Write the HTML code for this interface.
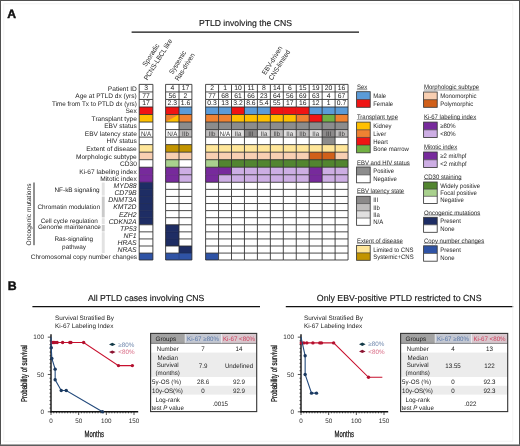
<!DOCTYPE html>
<html><head><meta charset="utf-8"><style>
html,body{margin:0;padding:0;background:#fff;}
#root{position:relative;width:520px;height:446px;overflow:hidden;background:#fff;font-family:"Liberation Sans",sans-serif;}
</style></head><body><div id="root">
<svg width="520" height="446" viewBox="0 0 520 446" font-family="Liberation Sans" text-rendering="geometricPrecision" style="position:absolute;left:0;top:0;filter:blur(0.22px)">
<rect x="0.00" y="0.00" width="520.00" height="446.00" fill="#fff"/>
<rect x="139.20" y="84.40" width="13.70" height="7.53" fill="#fff"/>
<text x="146.05" y="90.37" font-size="6.8" text-anchor="middle" fill="#222" font-weight="normal" font-style="normal" >3</text>
<rect x="139.20" y="91.93" width="13.70" height="7.53" fill="#fff"/>
<text x="146.05" y="97.90" font-size="6.8" text-anchor="middle" fill="#222" font-weight="normal" font-style="normal" >77</text>
<rect x="139.20" y="99.46" width="13.70" height="7.53" fill="#fff"/>
<text x="146.05" y="105.43" font-size="6.8" text-anchor="middle" fill="#222" font-weight="normal" font-style="normal" >17</text>
<rect x="139.20" y="106.99" width="13.70" height="7.53" fill="#f01414"/>
<rect x="139.20" y="114.52" width="13.70" height="7.53" fill="#ffc000"/>
<rect x="139.20" y="122.05" width="13.70" height="7.53" fill="#ffffff"/>
<rect x="139.20" y="129.58" width="13.70" height="7.53" fill="#ffffff"/>
<text transform="translate(146.05,135.55) scale(0.9688,1)" x="0" y="0" font-size="6.4" text-anchor="middle" fill="#3a3a3a" font-weight="normal" font-style="normal" >N/A</text>
<rect x="139.20" y="137.11" width="13.70" height="7.53" fill="#ffffff"/>
<rect x="139.20" y="144.64" width="13.70" height="7.53" fill="#ffe699"/>
<rect x="139.20" y="152.17" width="13.70" height="7.53" fill="#f8cfb2"/>
<rect x="139.20" y="159.70" width="13.70" height="7.53" fill="#ffffff"/>
<rect x="139.20" y="167.23" width="13.70" height="7.53" fill="#772a9c"/>
<rect x="139.20" y="174.76" width="13.70" height="7.53" fill="#772a9c"/>
<rect x="139.20" y="182.29" width="13.70" height="7.08" fill="#1e2d64"/>
<rect x="139.20" y="189.37" width="13.70" height="7.08" fill="#1e2d64"/>
<rect x="139.20" y="196.45" width="13.70" height="7.08" fill="#1e2d64"/>
<rect x="139.20" y="203.53" width="13.70" height="7.08" fill="#1e2d64"/>
<rect x="139.20" y="210.61" width="13.70" height="7.08" fill="#1e2d64"/>
<rect x="139.20" y="217.69" width="13.70" height="7.08" fill="#1e2d64"/>
<rect x="139.20" y="224.77" width="13.70" height="7.08" fill="#fff"/>
<rect x="139.20" y="231.85" width="13.70" height="7.08" fill="#fff"/>
<rect x="139.20" y="238.93" width="13.70" height="7.08" fill="#fff"/>
<rect x="139.20" y="246.01" width="13.70" height="7.08" fill="#fff"/>
<rect x="139.20" y="253.09" width="13.70" height="6.90" fill="#2f53a5"/>
<rect x="165.60" y="84.40" width="13.40" height="7.53" fill="#fff"/>
<text x="172.30" y="90.37" font-size="6.8" text-anchor="middle" fill="#222" font-weight="normal" font-style="normal" >4</text>
<rect x="165.60" y="91.93" width="13.40" height="7.53" fill="#fff"/>
<text x="172.30" y="97.90" font-size="6.8" text-anchor="middle" fill="#222" font-weight="normal" font-style="normal" >56</text>
<rect x="165.60" y="99.46" width="13.40" height="7.53" fill="#fff"/>
<text x="172.30" y="105.43" font-size="6.8" text-anchor="middle" fill="#222" font-weight="normal" font-style="normal" >2.3</text>
<rect x="165.60" y="106.99" width="13.40" height="7.53" fill="#f01414"/>
<rect x="165.60" y="114.52" width="13.40" height="7.53" fill="#ffc000"/>
<polygon points="165.60,114.52 179.00,114.52 165.60,122.05" fill="#ef8232"/>
<rect x="165.60" y="122.05" width="13.40" height="7.53" fill="#ffffff"/>
<rect x="165.60" y="129.58" width="13.40" height="7.53" fill="#ffffff"/>
<text transform="translate(172.30,135.55) scale(0.9688,1)" x="0" y="0" font-size="6.4" text-anchor="middle" fill="#3a3a3a" font-weight="normal" font-style="normal" >N/A</text>
<rect x="165.60" y="137.11" width="13.40" height="7.53" fill="#ffffff"/>
<rect x="165.60" y="144.64" width="13.40" height="7.53" fill="#c29400"/>
<rect x="165.60" y="152.17" width="13.40" height="7.53" fill="#f8cfb2"/>
<rect x="165.60" y="159.70" width="13.40" height="7.53" fill="#a9d18e"/>
<rect x="165.60" y="167.23" width="13.40" height="7.53" fill="#772a9c"/>
<rect x="165.60" y="174.76" width="13.40" height="7.53" fill="#772a9c"/>
<rect x="165.60" y="182.29" width="13.40" height="7.08" fill="#fff"/>
<rect x="165.60" y="189.37" width="13.40" height="7.08" fill="#fff"/>
<rect x="165.60" y="196.45" width="13.40" height="7.08" fill="#fff"/>
<rect x="165.60" y="203.53" width="13.40" height="7.08" fill="#fff"/>
<rect x="165.60" y="210.61" width="13.40" height="7.08" fill="#fff"/>
<rect x="165.60" y="217.69" width="13.40" height="7.08" fill="#fff"/>
<rect x="165.60" y="224.77" width="13.40" height="7.08" fill="#1e2d64"/>
<rect x="165.60" y="231.85" width="13.40" height="7.08" fill="#1e2d64"/>
<rect x="165.60" y="238.93" width="13.40" height="7.08" fill="#1e2d64"/>
<rect x="165.60" y="246.01" width="13.40" height="7.08" fill="#fff"/>
<rect x="165.60" y="253.09" width="13.40" height="6.90" fill="#2f53a5"/>
<rect x="179.00" y="84.40" width="12.90" height="7.53" fill="#fff"/>
<text x="185.45" y="90.37" font-size="6.8" text-anchor="middle" fill="#222" font-weight="normal" font-style="normal" >17</text>
<rect x="179.00" y="91.93" width="12.90" height="7.53" fill="#fff"/>
<text x="185.45" y="97.90" font-size="6.8" text-anchor="middle" fill="#222" font-weight="normal" font-style="normal" >2</text>
<rect x="179.00" y="99.46" width="12.90" height="7.53" fill="#fff"/>
<text x="185.45" y="105.43" font-size="6.8" text-anchor="middle" fill="#222" font-weight="normal" font-style="normal" >1.6</text>
<rect x="179.00" y="106.99" width="12.90" height="7.53" fill="#5b9bd8"/>
<rect x="179.00" y="114.52" width="12.90" height="7.53" fill="#ef8232"/>
<rect x="179.00" y="122.05" width="12.90" height="7.53" fill="#8c8c8c"/>
<rect x="179.00" y="129.58" width="12.90" height="7.53" fill="#bfbdbd"/>
<text transform="translate(185.45,135.55) scale(0.9688,1)" x="0" y="0" font-size="6.4" text-anchor="middle" fill="#3a3a3a" font-weight="normal" font-style="normal" >IIb</text>
<rect x="179.00" y="137.11" width="12.90" height="7.53" fill="#ffffff"/>
<rect x="179.00" y="144.64" width="12.90" height="7.53" fill="#c29400"/>
<rect x="179.00" y="152.17" width="12.90" height="7.53" fill="#f8cfb2"/>
<rect x="179.00" y="159.70" width="12.90" height="7.53" fill="#ffffff"/>
<rect x="179.00" y="167.23" width="12.90" height="7.53" fill="#cdaee4"/>
<rect x="179.00" y="174.76" width="12.90" height="7.53" fill="#cdaee4"/>
<rect x="179.00" y="182.29" width="12.90" height="7.08" fill="#fff"/>
<rect x="179.00" y="189.37" width="12.90" height="7.08" fill="#fff"/>
<rect x="179.00" y="196.45" width="12.90" height="7.08" fill="#fff"/>
<rect x="179.00" y="203.53" width="12.90" height="7.08" fill="#fff"/>
<rect x="179.00" y="210.61" width="12.90" height="7.08" fill="#fff"/>
<rect x="179.00" y="217.69" width="12.90" height="7.08" fill="#fff"/>
<rect x="179.00" y="224.77" width="12.90" height="7.08" fill="#fff"/>
<rect x="179.00" y="231.85" width="12.90" height="7.08" fill="#fff"/>
<rect x="179.00" y="238.93" width="12.90" height="7.08" fill="#fff"/>
<rect x="179.00" y="246.01" width="12.90" height="7.08" fill="#1e2d64"/>
<rect x="179.00" y="253.09" width="12.90" height="6.90" fill="#2f53a5"/>
<rect x="205.60" y="84.40" width="12.95" height="7.53" fill="#fff"/>
<text x="212.07" y="90.37" font-size="6.8" text-anchor="middle" fill="#222" font-weight="normal" font-style="normal" >2</text>
<rect x="205.60" y="91.93" width="12.95" height="7.53" fill="#fff"/>
<text x="212.07" y="97.90" font-size="6.8" text-anchor="middle" fill="#222" font-weight="normal" font-style="normal" >77</text>
<rect x="205.60" y="99.46" width="12.95" height="7.53" fill="#fff"/>
<text x="212.07" y="105.43" font-size="6.8" text-anchor="middle" fill="#222" font-weight="normal" font-style="normal" >0.3</text>
<rect x="205.60" y="106.99" width="12.95" height="7.53" fill="#5b9bd8"/>
<rect x="205.60" y="114.52" width="12.95" height="7.53" fill="#ef8232"/>
<rect x="205.60" y="122.05" width="12.95" height="7.53" fill="#8c8c8c"/>
<rect x="205.60" y="129.58" width="12.95" height="7.53" fill="#bfbdbd"/>
<text transform="translate(212.07,135.55) scale(0.9688,1)" x="0" y="0" font-size="6.4" text-anchor="middle" fill="#3a3a3a" font-weight="normal" font-style="normal" >IIb</text>
<rect x="205.60" y="137.11" width="12.95" height="7.53" fill="#ffffff"/>
<rect x="205.60" y="144.64" width="12.95" height="7.53" fill="#ffe699"/>
<rect x="205.60" y="152.17" width="12.95" height="7.53" fill="#f8cfb2"/>
<rect x="205.60" y="159.70" width="12.95" height="7.53" fill="#a9d18e"/>
<rect x="205.60" y="167.23" width="12.95" height="7.53" fill="#772a9c"/>
<rect x="205.60" y="174.76" width="12.95" height="7.53" fill="#772a9c"/>
<rect x="205.60" y="182.29" width="12.95" height="7.08" fill="#fff"/>
<rect x="205.60" y="189.37" width="12.95" height="7.08" fill="#fff"/>
<rect x="205.60" y="196.45" width="12.95" height="7.08" fill="#fff"/>
<rect x="205.60" y="203.53" width="12.95" height="7.08" fill="#fff"/>
<rect x="205.60" y="210.61" width="12.95" height="7.08" fill="#fff"/>
<rect x="205.60" y="217.69" width="12.95" height="7.08" fill="#fff"/>
<rect x="205.60" y="224.77" width="12.95" height="7.08" fill="#fff"/>
<rect x="205.60" y="231.85" width="12.95" height="7.08" fill="#fff"/>
<rect x="205.60" y="238.93" width="12.95" height="7.08" fill="#fff"/>
<rect x="205.60" y="246.01" width="12.95" height="7.08" fill="#fff"/>
<rect x="205.60" y="253.09" width="12.95" height="6.90" fill="#2f53a5"/>
<rect x="218.55" y="84.40" width="12.95" height="7.53" fill="#fff"/>
<text x="225.02" y="90.37" font-size="6.8" text-anchor="middle" fill="#222" font-weight="normal" font-style="normal" >1</text>
<rect x="218.55" y="91.93" width="12.95" height="7.53" fill="#fff"/>
<text x="225.02" y="97.90" font-size="6.8" text-anchor="middle" fill="#222" font-weight="normal" font-style="normal" >68</text>
<rect x="218.55" y="99.46" width="12.95" height="7.53" fill="#fff"/>
<text x="225.02" y="105.43" font-size="6.8" text-anchor="middle" fill="#222" font-weight="normal" font-style="normal" >13</text>
<rect x="218.55" y="106.99" width="12.95" height="7.53" fill="#5b9bd8"/>
<rect x="218.55" y="114.52" width="12.95" height="7.53" fill="#ef8232"/>
<rect x="218.55" y="122.05" width="12.95" height="7.53" fill="#8c8c8c"/>
<rect x="218.55" y="129.58" width="12.95" height="7.53" fill="#ffffff"/>
<text transform="translate(225.02,135.55) scale(0.9688,1)" x="0" y="0" font-size="6.4" text-anchor="middle" fill="#3a3a3a" font-weight="normal" font-style="normal" >N/A</text>
<rect x="218.55" y="137.11" width="12.95" height="7.53" fill="#ffffff"/>
<rect x="218.55" y="144.64" width="12.95" height="7.53" fill="#ffe699"/>
<rect x="218.55" y="152.17" width="12.95" height="7.53" fill="#f8cfb2"/>
<rect x="218.55" y="159.70" width="12.95" height="7.53" fill="#528530"/>
<rect x="218.55" y="167.23" width="12.95" height="7.53" fill="#772a9c"/>
<rect x="218.55" y="174.76" width="12.95" height="7.53" fill="#cdaee4"/>
<rect x="218.55" y="182.29" width="12.95" height="7.08" fill="#fff"/>
<rect x="218.55" y="189.37" width="12.95" height="7.08" fill="#fff"/>
<rect x="218.55" y="196.45" width="12.95" height="7.08" fill="#fff"/>
<rect x="218.55" y="203.53" width="12.95" height="7.08" fill="#fff"/>
<rect x="218.55" y="210.61" width="12.95" height="7.08" fill="#fff"/>
<rect x="218.55" y="217.69" width="12.95" height="7.08" fill="#fff"/>
<rect x="218.55" y="224.77" width="12.95" height="7.08" fill="#fff"/>
<rect x="218.55" y="231.85" width="12.95" height="7.08" fill="#fff"/>
<rect x="218.55" y="238.93" width="12.95" height="7.08" fill="#fff"/>
<rect x="218.55" y="246.01" width="12.95" height="7.08" fill="#fff"/>
<rect x="218.55" y="253.09" width="12.95" height="6.90" fill="#fff"/>
<rect x="231.50" y="84.40" width="12.95" height="7.53" fill="#fff"/>
<text x="237.97" y="90.37" font-size="6.8" text-anchor="middle" fill="#222" font-weight="normal" font-style="normal" >10</text>
<rect x="231.50" y="91.93" width="12.95" height="7.53" fill="#fff"/>
<text x="237.97" y="97.90" font-size="6.8" text-anchor="middle" fill="#222" font-weight="normal" font-style="normal" >61</text>
<rect x="231.50" y="99.46" width="12.95" height="7.53" fill="#fff"/>
<text x="237.97" y="105.43" font-size="6.8" text-anchor="middle" fill="#222" font-weight="normal" font-style="normal" >3.2</text>
<rect x="231.50" y="106.99" width="12.95" height="7.53" fill="#f01414"/>
<rect x="231.50" y="114.52" width="12.95" height="7.53" fill="#ffc000"/>
<rect x="231.50" y="122.05" width="12.95" height="7.53" fill="#8c8c8c"/>
<rect x="231.50" y="129.58" width="12.95" height="7.53" fill="#e0dfdf"/>
<text transform="translate(237.97,135.55) scale(0.9688,1)" x="0" y="0" font-size="6.4" text-anchor="middle" fill="#3a3a3a" font-weight="normal" font-style="normal" >IIa</text>
<rect x="231.50" y="137.11" width="12.95" height="7.53" fill="#ffffff"/>
<rect x="231.50" y="144.64" width="12.95" height="7.53" fill="#ffe699"/>
<rect x="231.50" y="152.17" width="12.95" height="7.53" fill="#f8cfb2"/>
<rect x="231.50" y="159.70" width="12.95" height="7.53" fill="#528530"/>
<rect x="231.50" y="167.23" width="12.95" height="7.53" fill="#cdaee4"/>
<rect x="231.50" y="174.76" width="12.95" height="7.53" fill="#cdaee4"/>
<rect x="231.50" y="182.29" width="12.95" height="7.08" fill="#fff"/>
<rect x="231.50" y="189.37" width="12.95" height="7.08" fill="#fff"/>
<rect x="231.50" y="196.45" width="12.95" height="7.08" fill="#fff"/>
<rect x="231.50" y="203.53" width="12.95" height="7.08" fill="#fff"/>
<rect x="231.50" y="210.61" width="12.95" height="7.08" fill="#fff"/>
<rect x="231.50" y="217.69" width="12.95" height="7.08" fill="#fff"/>
<rect x="231.50" y="224.77" width="12.95" height="7.08" fill="#fff"/>
<rect x="231.50" y="231.85" width="12.95" height="7.08" fill="#fff"/>
<rect x="231.50" y="238.93" width="12.95" height="7.08" fill="#fff"/>
<rect x="231.50" y="246.01" width="12.95" height="7.08" fill="#fff"/>
<rect x="231.50" y="253.09" width="12.95" height="6.90" fill="#fff"/>
<rect x="244.45" y="84.40" width="12.95" height="7.53" fill="#fff"/>
<text x="250.92" y="90.37" font-size="6.8" text-anchor="middle" fill="#222" font-weight="normal" font-style="normal" >11</text>
<rect x="244.45" y="91.93" width="12.95" height="7.53" fill="#fff"/>
<text x="250.92" y="97.90" font-size="6.8" text-anchor="middle" fill="#222" font-weight="normal" font-style="normal" >66</text>
<rect x="244.45" y="99.46" width="12.95" height="7.53" fill="#fff"/>
<text x="250.92" y="105.43" font-size="6.8" text-anchor="middle" fill="#222" font-weight="normal" font-style="normal" >8.6</text>
<rect x="244.45" y="106.99" width="12.95" height="7.53" fill="#5b9bd8"/>
<rect x="244.45" y="114.52" width="12.95" height="7.53" fill="#ffc000"/>
<rect x="244.45" y="122.05" width="12.95" height="7.53" fill="#8c8c8c"/>
<rect x="244.45" y="129.58" width="12.95" height="7.53" fill="#8c8a8a"/>
<text transform="translate(250.92,135.55) scale(0.9688,1)" x="0" y="0" font-size="6.4" text-anchor="middle" fill="#3a3a3a" font-weight="normal" font-style="normal" >III</text>
<rect x="244.45" y="137.11" width="12.95" height="7.53" fill="#ffffff"/>
<rect x="244.45" y="144.64" width="12.95" height="7.53" fill="#ffe699"/>
<rect x="244.45" y="152.17" width="12.95" height="7.53" fill="#f8cfb2"/>
<rect x="244.45" y="159.70" width="12.95" height="7.53" fill="#528530"/>
<rect x="244.45" y="167.23" width="12.95" height="7.53" fill="#cdaee4"/>
<rect x="244.45" y="174.76" width="12.95" height="7.53" fill="#cdaee4"/>
<rect x="244.45" y="182.29" width="12.95" height="7.08" fill="#fff"/>
<rect x="244.45" y="189.37" width="12.95" height="7.08" fill="#fff"/>
<rect x="244.45" y="196.45" width="12.95" height="7.08" fill="#fff"/>
<rect x="244.45" y="203.53" width="12.95" height="7.08" fill="#fff"/>
<rect x="244.45" y="210.61" width="12.95" height="7.08" fill="#fff"/>
<rect x="244.45" y="217.69" width="12.95" height="7.08" fill="#fff"/>
<rect x="244.45" y="224.77" width="12.95" height="7.08" fill="#fff"/>
<rect x="244.45" y="231.85" width="12.95" height="7.08" fill="#fff"/>
<rect x="244.45" y="238.93" width="12.95" height="7.08" fill="#fff"/>
<rect x="244.45" y="246.01" width="12.95" height="7.08" fill="#fff"/>
<rect x="244.45" y="253.09" width="12.95" height="6.90" fill="#fff"/>
<rect x="257.40" y="84.40" width="12.95" height="7.53" fill="#fff"/>
<text x="263.88" y="90.37" font-size="6.8" text-anchor="middle" fill="#222" font-weight="normal" font-style="normal" >8</text>
<rect x="257.40" y="91.93" width="12.95" height="7.53" fill="#fff"/>
<text x="263.88" y="97.90" font-size="6.8" text-anchor="middle" fill="#222" font-weight="normal" font-style="normal" >23</text>
<rect x="257.40" y="99.46" width="12.95" height="7.53" fill="#fff"/>
<text x="263.88" y="105.43" font-size="6.8" text-anchor="middle" fill="#222" font-weight="normal" font-style="normal" >5.4</text>
<rect x="257.40" y="106.99" width="12.95" height="7.53" fill="#5b9bd8"/>
<rect x="257.40" y="114.52" width="12.95" height="7.53" fill="#ffc000"/>
<rect x="257.40" y="122.05" width="12.95" height="7.53" fill="#8c8c8c"/>
<rect x="257.40" y="129.58" width="12.95" height="7.53" fill="#e0dfdf"/>
<text transform="translate(263.88,135.55) scale(0.9688,1)" x="0" y="0" font-size="6.4" text-anchor="middle" fill="#3a3a3a" font-weight="normal" font-style="normal" >IIa</text>
<rect x="257.40" y="137.11" width="12.95" height="7.53" fill="#ffffff"/>
<rect x="257.40" y="144.64" width="12.95" height="7.53" fill="#ffe699"/>
<rect x="257.40" y="152.17" width="12.95" height="7.53" fill="#f8cfb2"/>
<rect x="257.40" y="159.70" width="12.95" height="7.53" fill="#528530"/>
<rect x="257.40" y="167.23" width="12.95" height="7.53" fill="#cdaee4"/>
<rect x="257.40" y="174.76" width="12.95" height="7.53" fill="#cdaee4"/>
<rect x="257.40" y="182.29" width="12.95" height="7.08" fill="#fff"/>
<rect x="257.40" y="189.37" width="12.95" height="7.08" fill="#fff"/>
<rect x="257.40" y="196.45" width="12.95" height="7.08" fill="#fff"/>
<rect x="257.40" y="203.53" width="12.95" height="7.08" fill="#fff"/>
<rect x="257.40" y="210.61" width="12.95" height="7.08" fill="#fff"/>
<rect x="257.40" y="217.69" width="12.95" height="7.08" fill="#fff"/>
<rect x="257.40" y="224.77" width="12.95" height="7.08" fill="#fff"/>
<rect x="257.40" y="231.85" width="12.95" height="7.08" fill="#fff"/>
<rect x="257.40" y="238.93" width="12.95" height="7.08" fill="#fff"/>
<rect x="257.40" y="246.01" width="12.95" height="7.08" fill="#fff"/>
<rect x="257.40" y="253.09" width="12.95" height="6.90" fill="#fff"/>
<rect x="270.35" y="84.40" width="12.95" height="7.53" fill="#fff"/>
<text x="276.82" y="90.37" font-size="6.8" text-anchor="middle" fill="#222" font-weight="normal" font-style="normal" >14</text>
<rect x="270.35" y="91.93" width="12.95" height="7.53" fill="#fff"/>
<text x="276.82" y="97.90" font-size="6.8" text-anchor="middle" fill="#222" font-weight="normal" font-style="normal" >64</text>
<rect x="270.35" y="99.46" width="12.95" height="7.53" fill="#fff"/>
<text x="276.82" y="105.43" font-size="6.8" text-anchor="middle" fill="#222" font-weight="normal" font-style="normal" >55</text>
<rect x="270.35" y="106.99" width="12.95" height="7.53" fill="#f01414"/>
<rect x="270.35" y="114.52" width="12.95" height="7.53" fill="#ffc000"/>
<rect x="270.35" y="122.05" width="12.95" height="7.53" fill="#8c8c8c"/>
<rect x="270.35" y="129.58" width="12.95" height="7.53" fill="#bfbdbd"/>
<text transform="translate(276.82,135.55) scale(0.9688,1)" x="0" y="0" font-size="6.4" text-anchor="middle" fill="#3a3a3a" font-weight="normal" font-style="normal" >IIb</text>
<rect x="270.35" y="137.11" width="12.95" height="7.53" fill="#ffffff"/>
<rect x="270.35" y="144.64" width="12.95" height="7.53" fill="#ffe699"/>
<rect x="270.35" y="152.17" width="12.95" height="7.53" fill="#f8cfb2"/>
<rect x="270.35" y="159.70" width="12.95" height="7.53" fill="#528530"/>
<rect x="270.35" y="167.23" width="12.95" height="7.53" fill="#cdaee4"/>
<rect x="270.35" y="174.76" width="12.95" height="7.53" fill="#cdaee4"/>
<rect x="270.35" y="182.29" width="12.95" height="7.08" fill="#fff"/>
<rect x="270.35" y="189.37" width="12.95" height="7.08" fill="#fff"/>
<rect x="270.35" y="196.45" width="12.95" height="7.08" fill="#fff"/>
<rect x="270.35" y="203.53" width="12.95" height="7.08" fill="#fff"/>
<rect x="270.35" y="210.61" width="12.95" height="7.08" fill="#fff"/>
<rect x="270.35" y="217.69" width="12.95" height="7.08" fill="#fff"/>
<rect x="270.35" y="224.77" width="12.95" height="7.08" fill="#fff"/>
<rect x="270.35" y="231.85" width="12.95" height="7.08" fill="#fff"/>
<rect x="270.35" y="238.93" width="12.95" height="7.08" fill="#fff"/>
<rect x="270.35" y="246.01" width="12.95" height="7.08" fill="#fff"/>
<rect x="270.35" y="253.09" width="12.95" height="6.90" fill="#fff"/>
<rect x="283.30" y="84.40" width="12.95" height="7.53" fill="#fff"/>
<text x="289.77" y="90.37" font-size="6.8" text-anchor="middle" fill="#222" font-weight="normal" font-style="normal" >6</text>
<rect x="283.30" y="91.93" width="12.95" height="7.53" fill="#fff"/>
<text x="289.77" y="97.90" font-size="6.8" text-anchor="middle" fill="#222" font-weight="normal" font-style="normal" >56</text>
<rect x="283.30" y="99.46" width="12.95" height="7.53" fill="#fff"/>
<text x="289.77" y="105.43" font-size="6.8" text-anchor="middle" fill="#222" font-weight="normal" font-style="normal" >17</text>
<rect x="283.30" y="106.99" width="12.95" height="7.53" fill="#f01414"/>
<rect x="283.30" y="114.52" width="12.95" height="7.53" fill="#ffc000"/>
<rect x="283.30" y="122.05" width="12.95" height="7.53" fill="#8c8c8c"/>
<rect x="283.30" y="129.58" width="12.95" height="7.53" fill="#e0dfdf"/>
<text transform="translate(289.77,135.55) scale(0.9688,1)" x="0" y="0" font-size="6.4" text-anchor="middle" fill="#3a3a3a" font-weight="normal" font-style="normal" >IIa</text>
<rect x="283.30" y="137.11" width="12.95" height="7.53" fill="#ffffff"/>
<rect x="283.30" y="144.64" width="12.95" height="7.53" fill="#ffe699"/>
<rect x="283.30" y="152.17" width="12.95" height="7.53" fill="#f8cfb2"/>
<rect x="283.30" y="159.70" width="12.95" height="7.53" fill="#528530"/>
<rect x="283.30" y="167.23" width="12.95" height="7.53" fill="#cdaee4"/>
<rect x="283.30" y="174.76" width="12.95" height="7.53" fill="#cdaee4"/>
<rect x="283.30" y="182.29" width="12.95" height="7.08" fill="#fff"/>
<rect x="283.30" y="189.37" width="12.95" height="7.08" fill="#fff"/>
<rect x="283.30" y="196.45" width="12.95" height="7.08" fill="#fff"/>
<rect x="283.30" y="203.53" width="12.95" height="7.08" fill="#fff"/>
<rect x="283.30" y="210.61" width="12.95" height="7.08" fill="#fff"/>
<rect x="283.30" y="217.69" width="12.95" height="7.08" fill="#fff"/>
<rect x="283.30" y="224.77" width="12.95" height="7.08" fill="#fff"/>
<rect x="283.30" y="231.85" width="12.95" height="7.08" fill="#fff"/>
<rect x="283.30" y="238.93" width="12.95" height="7.08" fill="#fff"/>
<rect x="283.30" y="246.01" width="12.95" height="7.08" fill="#fff"/>
<rect x="283.30" y="253.09" width="12.95" height="6.90" fill="#fff"/>
<rect x="296.25" y="84.40" width="12.95" height="7.53" fill="#fff"/>
<text x="302.73" y="90.37" font-size="6.8" text-anchor="middle" fill="#222" font-weight="normal" font-style="normal" >15</text>
<rect x="296.25" y="91.93" width="12.95" height="7.53" fill="#fff"/>
<text x="302.73" y="97.90" font-size="6.8" text-anchor="middle" fill="#222" font-weight="normal" font-style="normal" >69</text>
<rect x="296.25" y="99.46" width="12.95" height="7.53" fill="#fff"/>
<text x="302.73" y="105.43" font-size="6.8" text-anchor="middle" fill="#222" font-weight="normal" font-style="normal" >16</text>
<rect x="296.25" y="106.99" width="12.95" height="7.53" fill="#f01414"/>
<rect x="296.25" y="114.52" width="12.95" height="7.53" fill="#ef8232"/>
<rect x="296.25" y="122.05" width="12.95" height="7.53" fill="#8c8c8c"/>
<rect x="296.25" y="129.58" width="12.95" height="7.53" fill="#bfbdbd"/>
<text transform="translate(302.73,135.55) scale(0.9688,1)" x="0" y="0" font-size="6.4" text-anchor="middle" fill="#3a3a3a" font-weight="normal" font-style="normal" >IIb</text>
<rect x="296.25" y="137.11" width="12.95" height="7.53" fill="#ffffff"/>
<rect x="296.25" y="144.64" width="12.95" height="7.53" fill="#ffe699"/>
<rect x="296.25" y="152.17" width="12.95" height="7.53" fill="#f8cfb2"/>
<rect x="296.25" y="159.70" width="12.95" height="7.53" fill="#528530"/>
<rect x="296.25" y="167.23" width="12.95" height="7.53" fill="#cdaee4"/>
<rect x="296.25" y="174.76" width="12.95" height="7.53" fill="#cdaee4"/>
<rect x="296.25" y="182.29" width="12.95" height="7.08" fill="#fff"/>
<rect x="296.25" y="189.37" width="12.95" height="7.08" fill="#fff"/>
<rect x="296.25" y="196.45" width="12.95" height="7.08" fill="#fff"/>
<rect x="296.25" y="203.53" width="12.95" height="7.08" fill="#fff"/>
<rect x="296.25" y="210.61" width="12.95" height="7.08" fill="#fff"/>
<rect x="296.25" y="217.69" width="12.95" height="7.08" fill="#fff"/>
<rect x="296.25" y="224.77" width="12.95" height="7.08" fill="#fff"/>
<rect x="296.25" y="231.85" width="12.95" height="7.08" fill="#fff"/>
<rect x="296.25" y="238.93" width="12.95" height="7.08" fill="#fff"/>
<rect x="296.25" y="246.01" width="12.95" height="7.08" fill="#fff"/>
<rect x="296.25" y="253.09" width="12.95" height="6.90" fill="#fff"/>
<rect x="309.20" y="84.40" width="12.95" height="7.53" fill="#fff"/>
<text x="315.67" y="90.37" font-size="6.8" text-anchor="middle" fill="#222" font-weight="normal" font-style="normal" >19</text>
<rect x="309.20" y="91.93" width="12.95" height="7.53" fill="#fff"/>
<text x="315.67" y="97.90" font-size="6.8" text-anchor="middle" fill="#222" font-weight="normal" font-style="normal" >63</text>
<rect x="309.20" y="99.46" width="12.95" height="7.53" fill="#fff"/>
<text x="315.67" y="105.43" font-size="6.8" text-anchor="middle" fill="#222" font-weight="normal" font-style="normal" >12</text>
<rect x="309.20" y="106.99" width="12.95" height="7.53" fill="#5b9bd8"/>
<rect x="309.20" y="114.52" width="12.95" height="7.53" fill="#f01414"/>
<rect x="309.20" y="122.05" width="12.95" height="7.53" fill="#8c8c8c"/>
<rect x="309.20" y="129.58" width="12.95" height="7.53" fill="#e0dfdf"/>
<text transform="translate(315.67,135.55) scale(0.9688,1)" x="0" y="0" font-size="6.4" text-anchor="middle" fill="#3a3a3a" font-weight="normal" font-style="normal" >IIa</text>
<rect x="309.20" y="137.11" width="12.95" height="7.53" fill="#ffffff"/>
<rect x="309.20" y="144.64" width="12.95" height="7.53" fill="#ffe699"/>
<rect x="309.20" y="152.17" width="12.95" height="7.53" fill="#d1601a"/>
<rect x="309.20" y="159.70" width="12.95" height="7.53" fill="#528530"/>
<rect x="309.20" y="167.23" width="12.95" height="7.53" fill="#772a9c"/>
<rect x="309.20" y="174.76" width="12.95" height="7.53" fill="#772a9c"/>
<rect x="309.20" y="182.29" width="12.95" height="7.08" fill="#fff"/>
<rect x="309.20" y="189.37" width="12.95" height="7.08" fill="#fff"/>
<rect x="309.20" y="196.45" width="12.95" height="7.08" fill="#fff"/>
<rect x="309.20" y="203.53" width="12.95" height="7.08" fill="#fff"/>
<rect x="309.20" y="210.61" width="12.95" height="7.08" fill="#fff"/>
<rect x="309.20" y="217.69" width="12.95" height="7.08" fill="#fff"/>
<rect x="309.20" y="224.77" width="12.95" height="7.08" fill="#fff"/>
<rect x="309.20" y="231.85" width="12.95" height="7.08" fill="#fff"/>
<rect x="309.20" y="238.93" width="12.95" height="7.08" fill="#fff"/>
<rect x="309.20" y="246.01" width="12.95" height="7.08" fill="#fff"/>
<rect x="309.20" y="253.09" width="12.95" height="6.90" fill="#fff"/>
<rect x="322.15" y="84.40" width="12.95" height="7.53" fill="#fff"/>
<text x="328.62" y="90.37" font-size="6.8" text-anchor="middle" fill="#222" font-weight="normal" font-style="normal" >20</text>
<rect x="322.15" y="91.93" width="12.95" height="7.53" fill="#fff"/>
<text x="328.62" y="97.90" font-size="6.8" text-anchor="middle" fill="#222" font-weight="normal" font-style="normal" >4</text>
<rect x="322.15" y="99.46" width="12.95" height="7.53" fill="#fff"/>
<text x="328.62" y="105.43" font-size="6.8" text-anchor="middle" fill="#222" font-weight="normal" font-style="normal" >1</text>
<rect x="322.15" y="106.99" width="12.95" height="7.53" fill="#5b9bd8"/>
<rect x="322.15" y="114.52" width="12.95" height="7.53" fill="#72b043"/>
<rect x="322.15" y="122.05" width="12.95" height="7.53" fill="#8c8c8c"/>
<rect x="322.15" y="129.58" width="12.95" height="7.53" fill="#8c8a8a"/>
<text transform="translate(328.62,135.55) scale(0.9688,1)" x="0" y="0" font-size="6.4" text-anchor="middle" fill="#3a3a3a" font-weight="normal" font-style="normal" >III</text>
<rect x="322.15" y="137.11" width="12.95" height="7.53" fill="#8c8c8c"/>
<rect x="322.15" y="144.64" width="12.95" height="7.53" fill="#ffe699"/>
<rect x="322.15" y="152.17" width="12.95" height="7.53" fill="#d1601a"/>
<rect x="322.15" y="159.70" width="12.95" height="7.53" fill="#528530"/>
<rect x="322.15" y="167.23" width="12.95" height="7.53" fill="#cdaee4"/>
<rect x="322.15" y="174.76" width="12.95" height="7.53" fill="#cdaee4"/>
<rect x="322.15" y="182.29" width="12.95" height="7.08" fill="#fff"/>
<rect x="322.15" y="189.37" width="12.95" height="7.08" fill="#fff"/>
<rect x="322.15" y="196.45" width="12.95" height="7.08" fill="#fff"/>
<rect x="322.15" y="203.53" width="12.95" height="7.08" fill="#fff"/>
<rect x="322.15" y="210.61" width="12.95" height="7.08" fill="#fff"/>
<rect x="322.15" y="217.69" width="12.95" height="7.08" fill="#fff"/>
<rect x="322.15" y="224.77" width="12.95" height="7.08" fill="#fff"/>
<rect x="322.15" y="231.85" width="12.95" height="7.08" fill="#fff"/>
<rect x="322.15" y="238.93" width="12.95" height="7.08" fill="#fff"/>
<rect x="322.15" y="246.01" width="12.95" height="7.08" fill="#fff"/>
<rect x="322.15" y="253.09" width="12.95" height="6.90" fill="#fff"/>
<rect x="335.10" y="84.40" width="12.95" height="7.53" fill="#fff"/>
<text x="341.57" y="90.37" font-size="6.8" text-anchor="middle" fill="#222" font-weight="normal" font-style="normal" >16</text>
<rect x="335.10" y="91.93" width="12.95" height="7.53" fill="#fff"/>
<text x="341.57" y="97.90" font-size="6.8" text-anchor="middle" fill="#222" font-weight="normal" font-style="normal" >67</text>
<rect x="335.10" y="99.46" width="12.95" height="7.53" fill="#fff"/>
<text x="341.57" y="105.43" font-size="6.8" text-anchor="middle" fill="#222" font-weight="normal" font-style="normal" >0.7</text>
<rect x="335.10" y="106.99" width="12.95" height="7.53" fill="#5b9bd8"/>
<rect x="335.10" y="114.52" width="12.95" height="7.53" fill="#ef8232"/>
<rect x="335.10" y="122.05" width="12.95" height="7.53" fill="#8c8c8c"/>
<rect x="335.10" y="129.58" width="12.95" height="7.53" fill="#bfbdbd"/>
<text transform="translate(341.57,135.55) scale(0.9688,1)" x="0" y="0" font-size="6.4" text-anchor="middle" fill="#3a3a3a" font-weight="normal" font-style="normal" >IIb</text>
<rect x="335.10" y="137.11" width="12.95" height="7.53" fill="#ffffff"/>
<rect x="335.10" y="144.64" width="12.95" height="7.53" fill="#ffe699"/>
<rect x="335.10" y="152.17" width="12.95" height="7.53" fill="#f8cfb2"/>
<rect x="335.10" y="159.70" width="12.95" height="7.53" fill="#528530"/>
<rect x="335.10" y="167.23" width="12.95" height="7.53" fill="#cdaee4"/>
<rect x="335.10" y="174.76" width="12.95" height="7.53" fill="#cdaee4"/>
<rect x="335.10" y="182.29" width="12.95" height="7.08" fill="#fff"/>
<rect x="335.10" y="189.37" width="12.95" height="7.08" fill="#fff"/>
<rect x="335.10" y="196.45" width="12.95" height="7.08" fill="#fff"/>
<rect x="335.10" y="203.53" width="12.95" height="7.08" fill="#fff"/>
<rect x="335.10" y="210.61" width="12.95" height="7.08" fill="#fff"/>
<rect x="335.10" y="217.69" width="12.95" height="7.08" fill="#fff"/>
<rect x="335.10" y="224.77" width="12.95" height="7.08" fill="#fff"/>
<rect x="335.10" y="231.85" width="12.95" height="7.08" fill="#fff"/>
<rect x="335.10" y="238.93" width="12.95" height="7.08" fill="#fff"/>
<rect x="335.10" y="246.01" width="12.95" height="7.08" fill="#fff"/>
<rect x="335.10" y="253.09" width="12.95" height="6.90" fill="#fff"/>
<path d="M139.20 84.40L152.90 84.40M139.20 91.93L152.90 91.93M139.20 99.46L152.90 99.46M139.20 106.99L152.90 106.99M139.20 114.52L152.90 114.52M139.20 122.05L152.90 122.05M139.20 129.58L152.90 129.58M139.20 137.11L152.90 137.11M139.20 144.64L152.90 144.64M139.20 152.17L152.90 152.17M139.20 159.70L152.90 159.70M139.20 167.23L152.90 167.23M139.20 224.77L152.90 224.77M139.20 231.85L152.90 231.85M139.20 238.93L152.90 238.93M139.20 246.01L152.90 246.01M139.20 253.09L152.90 253.09M139.20 259.99L152.90 259.99M139.20 84.40L139.20 91.93M139.20 91.93L139.20 99.46M139.20 99.46L139.20 106.99M139.20 106.99L139.20 114.52M139.20 114.52L139.20 122.05M139.20 122.05L139.20 129.58M139.20 129.58L139.20 137.11M139.20 137.11L139.20 144.64M139.20 144.64L139.20 152.17M139.20 152.17L139.20 159.70M139.20 159.70L139.20 167.23M139.20 167.23L139.20 174.76M139.20 174.76L139.20 182.29M139.20 182.29L139.20 189.37M139.20 189.37L139.20 196.45M139.20 196.45L139.20 203.53M139.20 203.53L139.20 210.61M139.20 210.61L139.20 217.69M139.20 217.69L139.20 224.77M139.20 224.77L139.20 231.85M139.20 231.85L139.20 238.93M139.20 238.93L139.20 246.01M139.20 246.01L139.20 253.09M139.20 253.09L139.20 259.99M152.90 84.40L152.90 91.93M152.90 91.93L152.90 99.46M152.90 99.46L152.90 106.99M152.90 106.99L152.90 114.52M152.90 114.52L152.90 122.05M152.90 122.05L152.90 129.58M152.90 129.58L152.90 137.11M152.90 137.11L152.90 144.64M152.90 144.64L152.90 152.17M152.90 152.17L152.90 159.70M152.90 159.70L152.90 167.23M152.90 167.23L152.90 174.76M152.90 174.76L152.90 182.29M152.90 182.29L152.90 189.37M152.90 189.37L152.90 196.45M152.90 196.45L152.90 203.53M152.90 203.53L152.90 210.61M152.90 210.61L152.90 217.69M152.90 217.69L152.90 224.77M152.90 224.77L152.90 231.85M152.90 231.85L152.90 238.93M152.90 238.93L152.90 246.01M152.90 246.01L152.90 253.09M152.90 253.09L152.90 259.99M165.60 84.40L179.00 84.40M165.60 91.93L179.00 91.93M165.60 99.46L179.00 99.46M165.60 106.99L179.00 106.99M165.60 114.52L179.00 114.52M165.60 122.05L179.00 122.05M165.60 129.58L179.00 129.58M165.60 137.11L179.00 137.11M165.60 144.64L179.00 144.64M165.60 152.17L179.00 152.17M165.60 159.70L179.00 159.70M165.60 167.23L179.00 167.23M165.60 182.29L179.00 182.29M165.60 189.37L179.00 189.37M165.60 196.45L179.00 196.45M165.60 203.53L179.00 203.53M165.60 210.61L179.00 210.61M165.60 217.69L179.00 217.69M165.60 224.77L179.00 224.77M165.60 246.01L179.00 246.01M165.60 253.09L179.00 253.09M165.60 259.99L179.00 259.99M179.00 84.40L191.90 84.40M179.00 91.93L191.90 91.93M179.00 99.46L191.90 99.46M179.00 106.99L191.90 106.99M179.00 114.52L191.90 114.52M179.00 122.05L191.90 122.05M179.00 129.58L191.90 129.58M179.00 137.11L191.90 137.11M179.00 144.64L191.90 144.64M179.00 152.17L191.90 152.17M179.00 159.70L191.90 159.70M179.00 167.23L191.90 167.23M179.00 174.76L191.90 174.76M179.00 182.29L191.90 182.29M179.00 189.37L191.90 189.37M179.00 196.45L191.90 196.45M179.00 203.53L191.90 203.53M179.00 210.61L191.90 210.61M179.00 217.69L191.90 217.69M179.00 224.77L191.90 224.77M179.00 231.85L191.90 231.85M179.00 238.93L191.90 238.93M179.00 246.01L191.90 246.01M179.00 259.99L191.90 259.99M165.60 84.40L165.60 91.93M165.60 91.93L165.60 99.46M165.60 99.46L165.60 106.99M165.60 106.99L165.60 114.52M165.60 114.52L165.60 122.05M165.60 122.05L165.60 129.58M165.60 129.58L165.60 137.11M165.60 137.11L165.60 144.64M165.60 144.64L165.60 152.17M165.60 152.17L165.60 159.70M165.60 159.70L165.60 167.23M165.60 167.23L165.60 174.76M165.60 174.76L165.60 182.29M165.60 182.29L165.60 189.37M165.60 189.37L165.60 196.45M165.60 196.45L165.60 203.53M165.60 203.53L165.60 210.61M165.60 210.61L165.60 217.69M165.60 217.69L165.60 224.77M165.60 224.77L165.60 231.85M165.60 231.85L165.60 238.93M165.60 238.93L165.60 246.01M165.60 246.01L165.60 253.09M165.60 253.09L165.60 259.99M179.00 84.40L179.00 91.93M179.00 91.93L179.00 99.46M179.00 99.46L179.00 106.99M179.00 106.99L179.00 114.52M179.00 114.52L179.00 122.05M179.00 122.05L179.00 129.58M179.00 129.58L179.00 137.11M179.00 137.11L179.00 144.64M179.00 144.64L179.00 152.17M179.00 152.17L179.00 159.70M179.00 159.70L179.00 167.23M179.00 167.23L179.00 174.76M179.00 174.76L179.00 182.29M179.00 182.29L179.00 189.37M179.00 189.37L179.00 196.45M179.00 196.45L179.00 203.53M179.00 203.53L179.00 210.61M179.00 210.61L179.00 217.69M179.00 217.69L179.00 224.77M179.00 224.77L179.00 231.85M179.00 231.85L179.00 238.93M179.00 238.93L179.00 246.01M179.00 246.01L179.00 253.09M191.90 84.40L191.90 91.93M191.90 91.93L191.90 99.46M191.90 99.46L191.90 106.99M191.90 106.99L191.90 114.52M191.90 114.52L191.90 122.05M191.90 122.05L191.90 129.58M191.90 129.58L191.90 137.11M191.90 137.11L191.90 144.64M191.90 144.64L191.90 152.17M191.90 152.17L191.90 159.70M191.90 159.70L191.90 167.23M191.90 167.23L191.90 174.76M191.90 174.76L191.90 182.29M191.90 182.29L191.90 189.37M191.90 189.37L191.90 196.45M191.90 196.45L191.90 203.53M191.90 203.53L191.90 210.61M191.90 210.61L191.90 217.69M191.90 217.69L191.90 224.77M191.90 224.77L191.90 231.85M191.90 231.85L191.90 238.93M191.90 238.93L191.90 246.01M191.90 246.01L191.90 253.09M191.90 253.09L191.90 259.99M205.60 84.40L218.55 84.40M205.60 91.93L218.55 91.93M205.60 99.46L218.55 99.46M205.60 106.99L218.55 106.99M205.60 114.52L218.55 114.52M205.60 122.05L218.55 122.05M205.60 129.58L218.55 129.58M205.60 137.11L218.55 137.11M205.60 144.64L218.55 144.64M205.60 152.17L218.55 152.17M205.60 159.70L218.55 159.70M205.60 167.23L218.55 167.23M205.60 182.29L218.55 182.29M205.60 189.37L218.55 189.37M205.60 196.45L218.55 196.45M205.60 203.53L218.55 203.53M205.60 210.61L218.55 210.61M205.60 217.69L218.55 217.69M205.60 224.77L218.55 224.77M205.60 231.85L218.55 231.85M205.60 238.93L218.55 238.93M205.60 246.01L218.55 246.01M205.60 253.09L218.55 253.09M205.60 259.99L218.55 259.99M218.55 84.40L231.50 84.40M218.55 91.93L231.50 91.93M218.55 99.46L231.50 99.46M218.55 106.99L231.50 106.99M218.55 114.52L231.50 114.52M218.55 122.05L231.50 122.05M218.55 129.58L231.50 129.58M218.55 137.11L231.50 137.11M218.55 144.64L231.50 144.64M218.55 152.17L231.50 152.17M218.55 159.70L231.50 159.70M218.55 167.23L231.50 167.23M218.55 174.76L231.50 174.76M218.55 182.29L231.50 182.29M218.55 189.37L231.50 189.37M218.55 196.45L231.50 196.45M218.55 203.53L231.50 203.53M218.55 210.61L231.50 210.61M218.55 217.69L231.50 217.69M218.55 224.77L231.50 224.77M218.55 231.85L231.50 231.85M218.55 238.93L231.50 238.93M218.55 246.01L231.50 246.01M218.55 253.09L231.50 253.09M218.55 259.99L231.50 259.99M231.50 84.40L244.45 84.40M231.50 91.93L244.45 91.93M231.50 99.46L244.45 99.46M231.50 106.99L244.45 106.99M231.50 114.52L244.45 114.52M231.50 122.05L244.45 122.05M231.50 129.58L244.45 129.58M231.50 137.11L244.45 137.11M231.50 144.64L244.45 144.64M231.50 152.17L244.45 152.17M231.50 159.70L244.45 159.70M231.50 167.23L244.45 167.23M231.50 174.76L244.45 174.76M231.50 182.29L244.45 182.29M231.50 189.37L244.45 189.37M231.50 196.45L244.45 196.45M231.50 203.53L244.45 203.53M231.50 210.61L244.45 210.61M231.50 217.69L244.45 217.69M231.50 224.77L244.45 224.77M231.50 231.85L244.45 231.85M231.50 238.93L244.45 238.93M231.50 246.01L244.45 246.01M231.50 253.09L244.45 253.09M231.50 259.99L244.45 259.99M244.45 84.40L257.40 84.40M244.45 91.93L257.40 91.93M244.45 99.46L257.40 99.46M244.45 106.99L257.40 106.99M244.45 114.52L257.40 114.52M244.45 122.05L257.40 122.05M244.45 129.58L257.40 129.58M244.45 137.11L257.40 137.11M244.45 144.64L257.40 144.64M244.45 152.17L257.40 152.17M244.45 159.70L257.40 159.70M244.45 167.23L257.40 167.23M244.45 174.76L257.40 174.76M244.45 182.29L257.40 182.29M244.45 189.37L257.40 189.37M244.45 196.45L257.40 196.45M244.45 203.53L257.40 203.53M244.45 210.61L257.40 210.61M244.45 217.69L257.40 217.69M244.45 224.77L257.40 224.77M244.45 231.85L257.40 231.85M244.45 238.93L257.40 238.93M244.45 246.01L257.40 246.01M244.45 253.09L257.40 253.09M244.45 259.99L257.40 259.99M257.40 84.40L270.35 84.40M257.40 91.93L270.35 91.93M257.40 99.46L270.35 99.46M257.40 106.99L270.35 106.99M257.40 114.52L270.35 114.52M257.40 122.05L270.35 122.05M257.40 129.58L270.35 129.58M257.40 137.11L270.35 137.11M257.40 144.64L270.35 144.64M257.40 152.17L270.35 152.17M257.40 159.70L270.35 159.70M257.40 167.23L270.35 167.23M257.40 174.76L270.35 174.76M257.40 182.29L270.35 182.29M257.40 189.37L270.35 189.37M257.40 196.45L270.35 196.45M257.40 203.53L270.35 203.53M257.40 210.61L270.35 210.61M257.40 217.69L270.35 217.69M257.40 224.77L270.35 224.77M257.40 231.85L270.35 231.85M257.40 238.93L270.35 238.93M257.40 246.01L270.35 246.01M257.40 253.09L270.35 253.09M257.40 259.99L270.35 259.99M270.35 84.40L283.30 84.40M270.35 91.93L283.30 91.93M270.35 99.46L283.30 99.46M270.35 106.99L283.30 106.99M270.35 114.52L283.30 114.52M270.35 122.05L283.30 122.05M270.35 129.58L283.30 129.58M270.35 137.11L283.30 137.11M270.35 144.64L283.30 144.64M270.35 152.17L283.30 152.17M270.35 159.70L283.30 159.70M270.35 167.23L283.30 167.23M270.35 174.76L283.30 174.76M270.35 182.29L283.30 182.29M270.35 189.37L283.30 189.37M270.35 196.45L283.30 196.45M270.35 203.53L283.30 203.53M270.35 210.61L283.30 210.61M270.35 217.69L283.30 217.69M270.35 224.77L283.30 224.77M270.35 231.85L283.30 231.85M270.35 238.93L283.30 238.93M270.35 246.01L283.30 246.01M270.35 253.09L283.30 253.09M270.35 259.99L283.30 259.99M283.30 84.40L296.25 84.40M283.30 91.93L296.25 91.93M283.30 99.46L296.25 99.46M283.30 106.99L296.25 106.99M283.30 114.52L296.25 114.52M283.30 122.05L296.25 122.05M283.30 129.58L296.25 129.58M283.30 137.11L296.25 137.11M283.30 144.64L296.25 144.64M283.30 152.17L296.25 152.17M283.30 159.70L296.25 159.70M283.30 167.23L296.25 167.23M283.30 174.76L296.25 174.76M283.30 182.29L296.25 182.29M283.30 189.37L296.25 189.37M283.30 196.45L296.25 196.45M283.30 203.53L296.25 203.53M283.30 210.61L296.25 210.61M283.30 217.69L296.25 217.69M283.30 224.77L296.25 224.77M283.30 231.85L296.25 231.85M283.30 238.93L296.25 238.93M283.30 246.01L296.25 246.01M283.30 253.09L296.25 253.09M283.30 259.99L296.25 259.99M296.25 84.40L309.20 84.40M296.25 91.93L309.20 91.93M296.25 99.46L309.20 99.46M296.25 106.99L309.20 106.99M296.25 114.52L309.20 114.52M296.25 122.05L309.20 122.05M296.25 129.58L309.20 129.58M296.25 137.11L309.20 137.11M296.25 144.64L309.20 144.64M296.25 152.17L309.20 152.17M296.25 159.70L309.20 159.70M296.25 167.23L309.20 167.23M296.25 174.76L309.20 174.76M296.25 182.29L309.20 182.29M296.25 189.37L309.20 189.37M296.25 196.45L309.20 196.45M296.25 203.53L309.20 203.53M296.25 210.61L309.20 210.61M296.25 217.69L309.20 217.69M296.25 224.77L309.20 224.77M296.25 231.85L309.20 231.85M296.25 238.93L309.20 238.93M296.25 246.01L309.20 246.01M296.25 253.09L309.20 253.09M296.25 259.99L309.20 259.99M309.20 84.40L322.15 84.40M309.20 91.93L322.15 91.93M309.20 99.46L322.15 99.46M309.20 106.99L322.15 106.99M309.20 114.52L322.15 114.52M309.20 122.05L322.15 122.05M309.20 129.58L322.15 129.58M309.20 137.11L322.15 137.11M309.20 144.64L322.15 144.64M309.20 152.17L322.15 152.17M309.20 159.70L322.15 159.70M309.20 167.23L322.15 167.23M309.20 182.29L322.15 182.29M309.20 189.37L322.15 189.37M309.20 196.45L322.15 196.45M309.20 203.53L322.15 203.53M309.20 210.61L322.15 210.61M309.20 217.69L322.15 217.69M309.20 224.77L322.15 224.77M309.20 231.85L322.15 231.85M309.20 238.93L322.15 238.93M309.20 246.01L322.15 246.01M309.20 253.09L322.15 253.09M309.20 259.99L322.15 259.99M322.15 84.40L335.10 84.40M322.15 91.93L335.10 91.93M322.15 99.46L335.10 99.46M322.15 106.99L335.10 106.99M322.15 114.52L335.10 114.52M322.15 122.05L335.10 122.05M322.15 129.58L335.10 129.58M322.15 137.11L335.10 137.11M322.15 144.64L335.10 144.64M322.15 152.17L335.10 152.17M322.15 159.70L335.10 159.70M322.15 167.23L335.10 167.23M322.15 174.76L335.10 174.76M322.15 182.29L335.10 182.29M322.15 189.37L335.10 189.37M322.15 196.45L335.10 196.45M322.15 203.53L335.10 203.53M322.15 210.61L335.10 210.61M322.15 217.69L335.10 217.69M322.15 224.77L335.10 224.77M322.15 231.85L335.10 231.85M322.15 238.93L335.10 238.93M322.15 246.01L335.10 246.01M322.15 253.09L335.10 253.09M322.15 259.99L335.10 259.99M335.10 84.40L348.05 84.40M335.10 91.93L348.05 91.93M335.10 99.46L348.05 99.46M335.10 106.99L348.05 106.99M335.10 114.52L348.05 114.52M335.10 122.05L348.05 122.05M335.10 129.58L348.05 129.58M335.10 137.11L348.05 137.11M335.10 144.64L348.05 144.64M335.10 152.17L348.05 152.17M335.10 159.70L348.05 159.70M335.10 167.23L348.05 167.23M335.10 174.76L348.05 174.76M335.10 182.29L348.05 182.29M335.10 189.37L348.05 189.37M335.10 196.45L348.05 196.45M335.10 203.53L348.05 203.53M335.10 210.61L348.05 210.61M335.10 217.69L348.05 217.69M335.10 224.77L348.05 224.77M335.10 231.85L348.05 231.85M335.10 238.93L348.05 238.93M335.10 246.01L348.05 246.01M335.10 253.09L348.05 253.09M335.10 259.99L348.05 259.99M205.60 84.40L205.60 91.93M205.60 91.93L205.60 99.46M205.60 99.46L205.60 106.99M205.60 106.99L205.60 114.52M205.60 114.52L205.60 122.05M205.60 122.05L205.60 129.58M205.60 129.58L205.60 137.11M205.60 137.11L205.60 144.64M205.60 144.64L205.60 152.17M205.60 152.17L205.60 159.70M205.60 159.70L205.60 167.23M205.60 167.23L205.60 174.76M205.60 174.76L205.60 182.29M205.60 182.29L205.60 189.37M205.60 189.37L205.60 196.45M205.60 196.45L205.60 203.53M205.60 203.53L205.60 210.61M205.60 210.61L205.60 217.69M205.60 217.69L205.60 224.77M205.60 224.77L205.60 231.85M205.60 231.85L205.60 238.93M205.60 238.93L205.60 246.01M205.60 246.01L205.60 253.09M205.60 253.09L205.60 259.99M218.55 84.40L218.55 91.93M218.55 91.93L218.55 99.46M218.55 99.46L218.55 106.99M218.55 106.99L218.55 114.52M218.55 114.52L218.55 122.05M218.55 122.05L218.55 129.58M218.55 129.58L218.55 137.11M218.55 137.11L218.55 144.64M218.55 144.64L218.55 152.17M218.55 152.17L218.55 159.70M218.55 159.70L218.55 167.23M218.55 174.76L218.55 182.29M218.55 182.29L218.55 189.37M218.55 189.37L218.55 196.45M218.55 196.45L218.55 203.53M218.55 203.53L218.55 210.61M218.55 210.61L218.55 217.69M218.55 217.69L218.55 224.77M218.55 224.77L218.55 231.85M218.55 231.85L218.55 238.93M218.55 238.93L218.55 246.01M218.55 246.01L218.55 253.09M218.55 253.09L218.55 259.99M231.50 84.40L231.50 91.93M231.50 91.93L231.50 99.46M231.50 99.46L231.50 106.99M231.50 106.99L231.50 114.52M231.50 114.52L231.50 122.05M231.50 122.05L231.50 129.58M231.50 129.58L231.50 137.11M231.50 137.11L231.50 144.64M231.50 144.64L231.50 152.17M231.50 152.17L231.50 159.70M231.50 159.70L231.50 167.23M231.50 167.23L231.50 174.76M231.50 174.76L231.50 182.29M231.50 182.29L231.50 189.37M231.50 189.37L231.50 196.45M231.50 196.45L231.50 203.53M231.50 203.53L231.50 210.61M231.50 210.61L231.50 217.69M231.50 217.69L231.50 224.77M231.50 224.77L231.50 231.85M231.50 231.85L231.50 238.93M231.50 238.93L231.50 246.01M231.50 246.01L231.50 253.09M231.50 253.09L231.50 259.99M244.45 84.40L244.45 91.93M244.45 91.93L244.45 99.46M244.45 99.46L244.45 106.99M244.45 106.99L244.45 114.52M244.45 114.52L244.45 122.05M244.45 122.05L244.45 129.58M244.45 129.58L244.45 137.11M244.45 137.11L244.45 144.64M244.45 144.64L244.45 152.17M244.45 152.17L244.45 159.70M244.45 159.70L244.45 167.23M244.45 167.23L244.45 174.76M244.45 174.76L244.45 182.29M244.45 182.29L244.45 189.37M244.45 189.37L244.45 196.45M244.45 196.45L244.45 203.53M244.45 203.53L244.45 210.61M244.45 210.61L244.45 217.69M244.45 217.69L244.45 224.77M244.45 224.77L244.45 231.85M244.45 231.85L244.45 238.93M244.45 238.93L244.45 246.01M244.45 246.01L244.45 253.09M244.45 253.09L244.45 259.99M257.40 84.40L257.40 91.93M257.40 91.93L257.40 99.46M257.40 99.46L257.40 106.99M257.40 106.99L257.40 114.52M257.40 114.52L257.40 122.05M257.40 122.05L257.40 129.58M257.40 129.58L257.40 137.11M257.40 137.11L257.40 144.64M257.40 144.64L257.40 152.17M257.40 152.17L257.40 159.70M257.40 159.70L257.40 167.23M257.40 167.23L257.40 174.76M257.40 174.76L257.40 182.29M257.40 182.29L257.40 189.37M257.40 189.37L257.40 196.45M257.40 196.45L257.40 203.53M257.40 203.53L257.40 210.61M257.40 210.61L257.40 217.69M257.40 217.69L257.40 224.77M257.40 224.77L257.40 231.85M257.40 231.85L257.40 238.93M257.40 238.93L257.40 246.01M257.40 246.01L257.40 253.09M257.40 253.09L257.40 259.99M270.35 84.40L270.35 91.93M270.35 91.93L270.35 99.46M270.35 99.46L270.35 106.99M270.35 106.99L270.35 114.52M270.35 114.52L270.35 122.05M270.35 122.05L270.35 129.58M270.35 129.58L270.35 137.11M270.35 137.11L270.35 144.64M270.35 144.64L270.35 152.17M270.35 152.17L270.35 159.70M270.35 159.70L270.35 167.23M270.35 167.23L270.35 174.76M270.35 174.76L270.35 182.29M270.35 182.29L270.35 189.37M270.35 189.37L270.35 196.45M270.35 196.45L270.35 203.53M270.35 203.53L270.35 210.61M270.35 210.61L270.35 217.69M270.35 217.69L270.35 224.77M270.35 224.77L270.35 231.85M270.35 231.85L270.35 238.93M270.35 238.93L270.35 246.01M270.35 246.01L270.35 253.09M270.35 253.09L270.35 259.99M283.30 84.40L283.30 91.93M283.30 91.93L283.30 99.46M283.30 99.46L283.30 106.99M283.30 114.52L283.30 122.05M283.30 122.05L283.30 129.58M283.30 129.58L283.30 137.11M283.30 137.11L283.30 144.64M283.30 144.64L283.30 152.17M283.30 152.17L283.30 159.70M283.30 159.70L283.30 167.23M283.30 167.23L283.30 174.76M283.30 174.76L283.30 182.29M283.30 182.29L283.30 189.37M283.30 189.37L283.30 196.45M283.30 196.45L283.30 203.53M283.30 203.53L283.30 210.61M283.30 210.61L283.30 217.69M283.30 217.69L283.30 224.77M283.30 224.77L283.30 231.85M283.30 231.85L283.30 238.93M283.30 238.93L283.30 246.01M283.30 246.01L283.30 253.09M283.30 253.09L283.30 259.99M296.25 84.40L296.25 91.93M296.25 91.93L296.25 99.46M296.25 99.46L296.25 106.99M296.25 114.52L296.25 122.05M296.25 122.05L296.25 129.58M296.25 129.58L296.25 137.11M296.25 137.11L296.25 144.64M296.25 144.64L296.25 152.17M296.25 152.17L296.25 159.70M296.25 159.70L296.25 167.23M296.25 167.23L296.25 174.76M296.25 174.76L296.25 182.29M296.25 182.29L296.25 189.37M296.25 189.37L296.25 196.45M296.25 196.45L296.25 203.53M296.25 203.53L296.25 210.61M296.25 210.61L296.25 217.69M296.25 217.69L296.25 224.77M296.25 224.77L296.25 231.85M296.25 231.85L296.25 238.93M296.25 238.93L296.25 246.01M296.25 246.01L296.25 253.09M296.25 253.09L296.25 259.99M309.20 84.40L309.20 91.93M309.20 91.93L309.20 99.46M309.20 99.46L309.20 106.99M309.20 106.99L309.20 114.52M309.20 114.52L309.20 122.05M309.20 122.05L309.20 129.58M309.20 129.58L309.20 137.11M309.20 137.11L309.20 144.64M309.20 144.64L309.20 152.17M309.20 152.17L309.20 159.70M309.20 159.70L309.20 167.23M309.20 167.23L309.20 174.76M309.20 174.76L309.20 182.29M309.20 182.29L309.20 189.37M309.20 189.37L309.20 196.45M309.20 196.45L309.20 203.53M309.20 203.53L309.20 210.61M309.20 210.61L309.20 217.69M309.20 217.69L309.20 224.77M309.20 224.77L309.20 231.85M309.20 231.85L309.20 238.93M309.20 238.93L309.20 246.01M309.20 246.01L309.20 253.09M309.20 253.09L309.20 259.99M322.15 84.40L322.15 91.93M322.15 91.93L322.15 99.46M322.15 99.46L322.15 106.99M322.15 106.99L322.15 114.52M322.15 114.52L322.15 122.05M322.15 122.05L322.15 129.58M322.15 129.58L322.15 137.11M322.15 137.11L322.15 144.64M322.15 144.64L322.15 152.17M322.15 152.17L322.15 159.70M322.15 159.70L322.15 167.23M322.15 167.23L322.15 174.76M322.15 174.76L322.15 182.29M322.15 182.29L322.15 189.37M322.15 189.37L322.15 196.45M322.15 196.45L322.15 203.53M322.15 203.53L322.15 210.61M322.15 210.61L322.15 217.69M322.15 217.69L322.15 224.77M322.15 224.77L322.15 231.85M322.15 231.85L322.15 238.93M322.15 238.93L322.15 246.01M322.15 246.01L322.15 253.09M322.15 253.09L322.15 259.99M335.10 84.40L335.10 91.93M335.10 91.93L335.10 99.46M335.10 99.46L335.10 106.99M335.10 106.99L335.10 114.52M335.10 114.52L335.10 122.05M335.10 122.05L335.10 129.58M335.10 129.58L335.10 137.11M335.10 137.11L335.10 144.64M335.10 144.64L335.10 152.17M335.10 152.17L335.10 159.70M335.10 159.70L335.10 167.23M335.10 167.23L335.10 174.76M335.10 174.76L335.10 182.29M335.10 182.29L335.10 189.37M335.10 189.37L335.10 196.45M335.10 196.45L335.10 203.53M335.10 203.53L335.10 210.61M335.10 210.61L335.10 217.69M335.10 217.69L335.10 224.77M335.10 224.77L335.10 231.85M335.10 231.85L335.10 238.93M335.10 238.93L335.10 246.01M335.10 246.01L335.10 253.09M335.10 253.09L335.10 259.99M348.05 84.40L348.05 91.93M348.05 91.93L348.05 99.46M348.05 99.46L348.05 106.99M348.05 106.99L348.05 114.52M348.05 114.52L348.05 122.05M348.05 122.05L348.05 129.58M348.05 129.58L348.05 137.11M348.05 137.11L348.05 144.64M348.05 144.64L348.05 152.17M348.05 152.17L348.05 159.70M348.05 159.70L348.05 167.23M348.05 167.23L348.05 174.76M348.05 174.76L348.05 182.29M348.05 182.29L348.05 189.37M348.05 189.37L348.05 196.45M348.05 196.45L348.05 203.53M348.05 203.53L348.05 210.61M348.05 210.61L348.05 217.69M348.05 217.69L348.05 224.77M348.05 224.77L348.05 231.85M348.05 231.85L348.05 238.93M348.05 238.93L348.05 246.01M348.05 246.01L348.05 253.09M348.05 253.09L348.05 259.99" stroke="#2a2a2a" stroke-width="0.85" fill="none"/>
<path d="M139.20 174.76L152.90 174.76M165.60 174.76L179.00 174.76M205.60 174.76L218.55 174.76M309.20 174.76L322.15 174.76M218.55 167.23L218.55 174.76" stroke="#622280" stroke-width="0.85" fill="none"/>
<path d="M139.20 182.29L152.90 182.29" stroke="#301d53" stroke-width="0.85" fill="none"/>
<path d="M139.20 189.37L152.90 189.37M139.20 196.45L152.90 196.45M139.20 203.53L152.90 203.53M139.20 210.61L152.90 210.61M139.20 217.69L152.90 217.69M165.60 231.85L179.00 231.85M165.60 238.93L179.00 238.93" stroke="#192552" stroke-width="0.85" fill="none"/>
<path d="M179.00 253.09L191.90 253.09" stroke="#192a56" stroke-width="0.85" fill="none"/>
<path d="M179.00 253.09L179.00 259.99" stroke="#274487" stroke-width="0.85" fill="none"/>
<path d="M283.30 106.99L283.30 114.52M296.25 106.99L296.25 114.52" stroke="#c51010" stroke-width="0.85" fill="none"/>
<text x="136.80" y="90.77" font-size="6.6" text-anchor="end" fill="#1e1e1e" font-weight="normal" font-style="normal" >Patient ID</text>
<text x="136.80" y="98.30" font-size="6.6" text-anchor="end" fill="#1e1e1e" font-weight="normal" font-style="normal" >Age at PTLD dx (yrs)</text>
<text x="136.80" y="105.83" font-size="6.6" text-anchor="end" fill="#1e1e1e" font-style="normal" textLength="84.80" lengthAdjust="spacingAndGlyphs">Time from Tx to PTLD dx (yrs)</text>
<text x="136.80" y="113.36" font-size="6.6" text-anchor="end" fill="#1e1e1e" font-weight="normal" font-style="normal" >Sex</text>
<text x="136.80" y="120.89" font-size="6.6" text-anchor="end" fill="#1e1e1e" font-weight="normal" font-style="normal" >Transplant type</text>
<text x="136.80" y="128.42" font-size="6.6" text-anchor="end" fill="#1e1e1e" font-weight="normal" font-style="normal" >EBV status</text>
<text x="136.80" y="135.95" font-size="6.6" text-anchor="end" fill="#1e1e1e" font-weight="normal" font-style="normal" >EBV latency state</text>
<text x="136.80" y="143.47" font-size="6.6" text-anchor="end" fill="#1e1e1e" font-weight="normal" font-style="normal" >HIV status</text>
<text x="136.80" y="151.01" font-size="6.6" text-anchor="end" fill="#1e1e1e" font-weight="normal" font-style="normal" >Extent of disease</text>
<text x="136.80" y="158.53" font-size="6.6" text-anchor="end" fill="#1e1e1e" font-weight="normal" font-style="normal" >Morphologic subtype</text>
<text x="136.80" y="166.06" font-size="6.6" text-anchor="end" fill="#1e1e1e" font-weight="normal" font-style="normal" >CD30</text>
<text x="136.80" y="173.59" font-size="6.6" text-anchor="end" fill="#1e1e1e" font-weight="normal" font-style="normal" >Ki-67 labeling index</text>
<text x="136.80" y="181.12" font-size="6.6" text-anchor="end" fill="#1e1e1e" font-weight="normal" font-style="normal" >Mitotic index</text>
<text x="136.60" y="188.23" font-size="6.9" text-anchor="end" fill="#1e1e1e" font-weight="normal" font-style="italic" >MYD88</text>
<text x="136.60" y="195.31" font-size="6.9" text-anchor="end" fill="#1e1e1e" font-weight="normal" font-style="italic" >CD79B</text>
<text x="136.60" y="202.39" font-size="6.9" text-anchor="end" fill="#1e1e1e" font-weight="normal" font-style="italic" >DNMT3A</text>
<text x="136.60" y="209.47" font-size="6.9" text-anchor="end" fill="#1e1e1e" font-weight="normal" font-style="italic" >KMT2D</text>
<text x="136.60" y="216.55" font-size="6.9" text-anchor="end" fill="#1e1e1e" font-weight="normal" font-style="italic" >EZH2</text>
<text x="136.60" y="223.63" font-size="6.9" text-anchor="end" fill="#1e1e1e" font-weight="normal" font-style="italic" >CDKN2A</text>
<text x="136.60" y="230.71" font-size="6.9" text-anchor="end" fill="#1e1e1e" font-weight="normal" font-style="italic" >TP53</text>
<text x="136.60" y="237.79" font-size="6.9" text-anchor="end" fill="#1e1e1e" font-weight="normal" font-style="italic" >NF1</text>
<text x="136.60" y="244.87" font-size="6.9" text-anchor="end" fill="#1e1e1e" font-weight="normal" font-style="italic" >HRAS</text>
<text x="136.60" y="251.95" font-size="6.9" text-anchor="end" fill="#1e1e1e" font-weight="normal" font-style="italic" >NRAS</text>
<text x="137.00" y="258.94" font-size="6.5" text-anchor="end" fill="#1e1e1e" font-weight="normal" font-style="normal" >Chromosomal copy number changes</text>
<text x="99.60" y="191.90" font-size="6.4" text-anchor="end" fill="#1e1e1e" font-weight="normal" font-style="normal" >NF-kB signaling</text>
<text x="68.70" y="208.80" font-size="6.4" text-anchor="middle" fill="#1e1e1e" font-weight="normal" font-style="normal" >Chromatin modulation</text>
<text x="69.30" y="222.70" font-size="6.4" text-anchor="middle" fill="#1e1e1e" font-weight="normal" font-style="normal" >Cell cycle regulation</text>
<text x="69.50" y="229.20" font-size="6.4" text-anchor="middle" fill="#1e1e1e" font-weight="normal" font-style="normal" >Genome maintenance</text>
<text x="73.80" y="241.10" font-size="6.4" text-anchor="middle" fill="#1e1e1e" font-weight="normal" font-style="normal" >Ras-signaling</text>
<text x="74.00" y="249.10" font-size="6.4" text-anchor="middle" fill="#1e1e1e" font-weight="normal" font-style="normal" >pathway</text>
<rect x="101.80" y="182.60" width="2.90" height="13.00" fill="#e2e2e2"/>
<rect x="101.80" y="196.60" width="2.90" height="20.80" fill="#cacaca"/>
<rect x="101.80" y="218.20" width="2.90" height="6.00" fill="#e2e2e2"/>
<rect x="101.80" y="225.00" width="2.90" height="6.40" fill="#cacaca"/>
<rect x="101.80" y="232.20" width="2.90" height="20.80" fill="#e2e2e2"/>
<g transform="translate(31.2,214.5) rotate(-90)"><text x="0" y="0" font-size="6.6" text-anchor="middle" fill="#1e1e1e">Oncogenic mutations</text></g>
<line x1="34.00" y1="182.50" x2="34.00" y2="245.20" stroke="#222" stroke-width="1.0"/>
<text x="7.30" y="17.50" font-size="12.2" text-anchor="start" fill="#111" font-weight="bold" font-style="normal" stroke="#111" stroke-width="0.45">A</text>
<text x="245.40" y="26.40" font-size="8.65" text-anchor="middle" fill="#1a1a1a" font-weight="normal" font-style="normal" stroke="#1a1a1a" stroke-width="0.15">PTLD involving the CNS</text>
<line x1="131.60" y1="32.20" x2="359.00" y2="32.20" stroke="#111" stroke-width="1.3"/>
<g transform="translate(154.50,57.30) rotate(-58) scale(0.92,1)"><text x="0" y="-1.94" font-size="7.0" text-anchor="middle" fill="#1e1e1e">Sporadic</text><text x="0" y="6.56" font-size="7.0" text-anchor="middle" fill="#1e1e1e">PCNS-LBCL like</text></g>
<g transform="translate(181.30,64.70) rotate(-58) scale(0.92,1)"><text x="0" y="-1.94" font-size="7.0" text-anchor="middle" fill="#1e1e1e">Systemic</text><text x="0" y="6.56" font-size="7.0" text-anchor="middle" fill="#1e1e1e">Ras-driven</text></g>
<g transform="translate(275.80,62.70) rotate(-58) scale(0.92,1)"><text x="0" y="-1.94" font-size="7.0" text-anchor="middle" fill="#1e1e1e">EBV-driven</text><text x="0" y="6.56" font-size="7.0" text-anchor="middle" fill="#1e1e1e">CNS-limited</text></g>
<text transform="translate(356.90,89.10) scale(0.9375,1)" x="0" y="0" font-size="6.4" text-anchor="start" fill="#1e1e1e" font-weight="normal" font-style="normal" >Sex</text>
<line x1="356.90" y1="89.70" x2="367.24" y2="89.70" stroke="#555" stroke-width="0.6"/>
<rect x="356.60" y="91.70" width="13.60" height="7.80" fill="#5b9bd8"/>
<text transform="translate(373.20,98.00) scale(0.9375,1)" x="0" y="0" font-size="6.4" text-anchor="start" fill="#1e1e1e" font-weight="normal" font-style="normal" >Male</text>
<rect x="356.60" y="99.50" width="13.60" height="7.80" fill="#f01414"/>
<text transform="translate(373.20,105.80) scale(0.9375,1)" x="0" y="0" font-size="6.4" text-anchor="start" fill="#1e1e1e" font-weight="normal" font-style="normal" >Female</text>
<line x1="356.60" y1="99.50" x2="370.20" y2="99.50" stroke="#2a2a2a" stroke-width="0.6"/>
<rect x="356.60" y="91.70" width="13.60" height="15.60" fill="none" stroke="#383838" stroke-width="0.85"/>
<text transform="translate(356.90,119.10) scale(0.9375,1)" x="0" y="0" font-size="6.4" text-anchor="start" fill="#1e1e1e" font-weight="normal" font-style="normal" >Transplant type</text>
<line x1="356.90" y1="119.70" x2="398.03" y2="119.70" stroke="#555" stroke-width="0.6"/>
<rect x="356.60" y="122.10" width="13.60" height="7.68" fill="#ffc000"/>
<text transform="translate(373.20,128.34) scale(0.9375,1)" x="0" y="0" font-size="6.4" text-anchor="start" fill="#1e1e1e" font-weight="normal" font-style="normal" >Kidney</text>
<rect x="356.60" y="129.78" width="13.60" height="7.68" fill="#ef8232"/>
<text transform="translate(373.20,136.01) scale(0.9375,1)" x="0" y="0" font-size="6.4" text-anchor="start" fill="#1e1e1e" font-weight="normal" font-style="normal" >Liver</text>
<rect x="356.60" y="137.45" width="13.60" height="7.68" fill="#f01414"/>
<text transform="translate(373.20,143.69) scale(0.9375,1)" x="0" y="0" font-size="6.4" text-anchor="start" fill="#1e1e1e" font-weight="normal" font-style="normal" >Heart</text>
<rect x="356.60" y="145.12" width="13.60" height="7.68" fill="#72b043"/>
<text transform="translate(373.20,151.36) scale(0.9375,1)" x="0" y="0" font-size="6.4" text-anchor="start" fill="#1e1e1e" font-weight="normal" font-style="normal" >Bone marrow</text>
<line x1="356.60" y1="129.78" x2="370.20" y2="129.78" stroke="#2a2a2a" stroke-width="0.6"/>
<line x1="356.60" y1="137.45" x2="370.20" y2="137.45" stroke="#2a2a2a" stroke-width="0.6"/>
<line x1="356.60" y1="145.12" x2="370.20" y2="145.12" stroke="#2a2a2a" stroke-width="0.6"/>
<rect x="356.60" y="122.10" width="13.60" height="30.70" fill="none" stroke="#383838" stroke-width="0.85"/>
<text transform="translate(356.90,164.50) scale(0.9375,1)" x="0" y="0" font-size="6.4" text-anchor="start" fill="#1e1e1e" font-weight="normal" font-style="normal" >EBV and HIV status</text>
<line x1="356.90" y1="165.10" x2="409.93" y2="165.10" stroke="#555" stroke-width="0.6"/>
<rect x="356.60" y="167.00" width="13.60" height="7.90" fill="#8c8c8c"/>
<text transform="translate(373.20,173.35) scale(0.9375,1)" x="0" y="0" font-size="6.4" text-anchor="start" fill="#1e1e1e" font-weight="normal" font-style="normal" >Positive</text>
<rect x="356.60" y="174.90" width="13.60" height="7.90" fill="#fff"/>
<text transform="translate(373.20,181.25) scale(0.9375,1)" x="0" y="0" font-size="6.4" text-anchor="start" fill="#1e1e1e" font-weight="normal" font-style="normal" >Negative</text>
<line x1="356.60" y1="174.90" x2="370.20" y2="174.90" stroke="#2a2a2a" stroke-width="0.6"/>
<rect x="356.60" y="167.00" width="13.60" height="15.80" fill="none" stroke="#383838" stroke-width="0.85"/>
<text transform="translate(356.90,192.90) scale(0.9375,1)" x="0" y="0" font-size="6.4" text-anchor="start" fill="#1e1e1e" font-weight="normal" font-style="normal" >EBV latency state</text>
<line x1="356.90" y1="193.50" x2="404.26" y2="193.50" stroke="#555" stroke-width="0.6"/>
<rect x="356.60" y="196.30" width="13.60" height="7.25" fill="#8c8a8a"/>
<text transform="translate(373.20,202.33) scale(0.9375,1)" x="0" y="0" font-size="6.4" text-anchor="start" fill="#1e1e1e" font-weight="normal" font-style="normal" >III</text>
<rect x="356.60" y="203.55" width="13.60" height="7.25" fill="#bfbdbd"/>
<text transform="translate(373.20,209.58) scale(0.9375,1)" x="0" y="0" font-size="6.4" text-anchor="start" fill="#1e1e1e" font-weight="normal" font-style="normal" >IIb</text>
<rect x="356.60" y="210.80" width="13.60" height="7.25" fill="#e0dfdf"/>
<text transform="translate(373.20,216.83) scale(0.9375,1)" x="0" y="0" font-size="6.4" text-anchor="start" fill="#1e1e1e" font-weight="normal" font-style="normal" >IIa</text>
<rect x="356.60" y="218.05" width="13.60" height="7.25" fill="#fff"/>
<text transform="translate(373.20,224.08) scale(0.9375,1)" x="0" y="0" font-size="6.4" text-anchor="start" fill="#1e1e1e" font-weight="normal" font-style="normal" >N/A</text>
<line x1="356.60" y1="203.55" x2="370.20" y2="203.55" stroke="#2a2a2a" stroke-width="0.6"/>
<line x1="356.60" y1="210.80" x2="370.20" y2="210.80" stroke="#2a2a2a" stroke-width="0.6"/>
<line x1="356.60" y1="218.05" x2="370.20" y2="218.05" stroke="#2a2a2a" stroke-width="0.6"/>
<rect x="356.60" y="196.30" width="13.60" height="29.00" fill="none" stroke="#383838" stroke-width="0.85"/>
<text transform="translate(356.90,242.70) scale(0.9375,1)" x="0" y="0" font-size="6.4" text-anchor="start" fill="#1e1e1e" font-weight="normal" font-style="normal" >Extent of disease</text>
<line x1="356.90" y1="243.30" x2="402.93" y2="243.30" stroke="#555" stroke-width="0.6"/>
<rect x="356.60" y="245.40" width="13.60" height="7.45" fill="#ffe699"/>
<text transform="translate(373.20,251.53) scale(0.9375,1)" x="0" y="0" font-size="6.4" text-anchor="start" fill="#1e1e1e" font-weight="normal" font-style="normal" >Limited to CNS</text>
<rect x="356.60" y="252.85" width="13.60" height="7.45" fill="#c29400"/>
<text transform="translate(373.20,258.98) scale(0.9375,1)" x="0" y="0" font-size="6.4" text-anchor="start" fill="#1e1e1e" font-weight="normal" font-style="normal" >Systemic+CNS</text>
<line x1="356.60" y1="252.85" x2="370.20" y2="252.85" stroke="#2a2a2a" stroke-width="0.6"/>
<rect x="356.60" y="245.40" width="13.60" height="14.90" fill="none" stroke="#383838" stroke-width="0.85"/>
<text transform="translate(423.90,89.40) scale(0.9375,1)" x="0" y="0" font-size="6.4" text-anchor="start" fill="#1e1e1e" font-weight="normal" font-style="normal" >Morphologic subtype</text>
<line x1="423.90" y1="90.00" x2="479.26" y2="90.00" stroke="#555" stroke-width="0.6"/>
<rect x="423.60" y="92.00" width="13.60" height="7.65" fill="#f8cfb2"/>
<text transform="translate(440.20,98.23) scale(0.9375,1)" x="0" y="0" font-size="6.4" text-anchor="start" fill="#1e1e1e" font-weight="normal" font-style="normal" >Monomorphic</text>
<rect x="423.60" y="99.65" width="13.60" height="7.65" fill="#d1601a"/>
<text transform="translate(440.20,105.88) scale(0.9375,1)" x="0" y="0" font-size="6.4" text-anchor="start" fill="#1e1e1e" font-weight="normal" font-style="normal" >Polymorphic</text>
<line x1="423.60" y1="99.65" x2="437.20" y2="99.65" stroke="#2a2a2a" stroke-width="0.6"/>
<rect x="423.60" y="92.00" width="13.60" height="15.30" fill="none" stroke="#383838" stroke-width="0.85"/>
<text transform="translate(423.90,118.90) scale(0.9375,1)" x="0" y="0" font-size="6.4" text-anchor="start" fill="#1e1e1e" font-weight="normal" font-style="normal" >Ki-67 labeling index</text>
<line x1="423.90" y1="119.50" x2="476.27" y2="119.50" stroke="#555" stroke-width="0.6"/>
<rect x="423.60" y="122.10" width="13.60" height="7.70" fill="#772a9c"/>
<text transform="translate(440.20,128.35) scale(0.9375,1)" x="0" y="0" font-size="6.4" text-anchor="start" fill="#1e1e1e" font-weight="normal" font-style="normal" >≥80%</text>
<rect x="423.60" y="129.80" width="13.60" height="7.70" fill="#cdaee4"/>
<text transform="translate(440.20,136.05) scale(0.9375,1)" x="0" y="0" font-size="6.4" text-anchor="start" fill="#1e1e1e" font-weight="normal" font-style="normal" >&lt;80%</text>
<line x1="423.60" y1="129.80" x2="437.20" y2="129.80" stroke="#2a2a2a" stroke-width="0.6"/>
<rect x="423.60" y="122.10" width="13.60" height="15.40" fill="none" stroke="#383838" stroke-width="0.85"/>
<text transform="translate(423.90,149.20) scale(0.9375,1)" x="0" y="0" font-size="6.4" text-anchor="start" fill="#1e1e1e" font-weight="normal" font-style="normal" >Mitotic index</text>
<line x1="423.90" y1="149.80" x2="457.24" y2="149.80" stroke="#555" stroke-width="0.6"/>
<rect x="423.60" y="152.00" width="13.60" height="7.75" fill="#772a9c"/>
<text transform="translate(440.20,158.28) scale(0.9375,1)" x="0" y="0" font-size="6.4" text-anchor="start" fill="#1e1e1e" font-weight="normal" font-style="normal" >≥2 mit/hpf</text>
<rect x="423.60" y="159.75" width="13.60" height="7.75" fill="#cdaee4"/>
<text transform="translate(440.20,166.03) scale(0.9375,1)" x="0" y="0" font-size="6.4" text-anchor="start" fill="#1e1e1e" font-weight="normal" font-style="normal" >&lt;2 mit/hpf</text>
<line x1="423.60" y1="159.75" x2="437.20" y2="159.75" stroke="#2a2a2a" stroke-width="0.6"/>
<rect x="423.60" y="152.00" width="13.60" height="15.50" fill="none" stroke="#383838" stroke-width="0.85"/>
<text transform="translate(423.90,178.90) scale(0.9375,1)" x="0" y="0" font-size="6.4" text-anchor="start" fill="#1e1e1e" font-weight="normal" font-style="normal" >CD30 staining</text>
<line x1="423.90" y1="179.50" x2="461.59" y2="179.50" stroke="#555" stroke-width="0.6"/>
<rect x="423.60" y="182.00" width="13.60" height="7.17" fill="#528530"/>
<text transform="translate(440.20,187.98) scale(0.9375,1)" x="0" y="0" font-size="6.4" text-anchor="start" fill="#1e1e1e" font-weight="normal" font-style="normal" >Widely positive</text>
<rect x="423.60" y="189.17" width="13.60" height="7.17" fill="#a9d18e"/>
<text transform="translate(440.20,195.15) scale(0.9375,1)" x="0" y="0" font-size="6.4" text-anchor="start" fill="#1e1e1e" font-weight="normal" font-style="normal" >Focal positive</text>
<rect x="423.60" y="196.33" width="13.60" height="7.17" fill="#fff"/>
<text transform="translate(440.20,202.32) scale(0.9375,1)" x="0" y="0" font-size="6.4" text-anchor="start" fill="#1e1e1e" font-weight="normal" font-style="normal" >Negative</text>
<line x1="423.60" y1="189.17" x2="437.20" y2="189.17" stroke="#2a2a2a" stroke-width="0.6"/>
<line x1="423.60" y1="196.33" x2="437.20" y2="196.33" stroke="#2a2a2a" stroke-width="0.6"/>
<rect x="423.60" y="182.00" width="13.60" height="21.50" fill="none" stroke="#383838" stroke-width="0.85"/>
<text transform="translate(423.90,214.50) scale(0.9375,1)" x="0" y="0" font-size="6.4" text-anchor="start" fill="#1e1e1e" font-weight="normal" font-style="normal" >Oncogenic mutations</text>
<line x1="423.90" y1="215.10" x2="480.26" y2="215.10" stroke="#555" stroke-width="0.6"/>
<rect x="423.60" y="217.30" width="13.60" height="7.50" fill="#1e2d64"/>
<text transform="translate(440.20,223.45) scale(0.9375,1)" x="0" y="0" font-size="6.4" text-anchor="start" fill="#1e1e1e" font-weight="normal" font-style="normal" >Present</text>
<rect x="423.60" y="224.80" width="13.60" height="7.50" fill="#fff"/>
<text transform="translate(440.20,230.95) scale(0.9375,1)" x="0" y="0" font-size="6.4" text-anchor="start" fill="#1e1e1e" font-weight="normal" font-style="normal" >None</text>
<line x1="423.60" y1="224.80" x2="437.20" y2="224.80" stroke="#2a2a2a" stroke-width="0.6"/>
<rect x="423.60" y="217.30" width="13.60" height="15.00" fill="none" stroke="#383838" stroke-width="0.85"/>
<text transform="translate(423.90,242.70) scale(0.9375,1)" x="0" y="0" font-size="6.4" text-anchor="start" fill="#1e1e1e" font-weight="normal" font-style="normal" >Copy number changes</text>
<line x1="423.90" y1="243.30" x2="484.26" y2="243.30" stroke="#555" stroke-width="0.6"/>
<rect x="423.60" y="245.80" width="13.60" height="7.70" fill="#2f53a5"/>
<text transform="translate(440.20,252.05) scale(0.9375,1)" x="0" y="0" font-size="6.4" text-anchor="start" fill="#1e1e1e" font-weight="normal" font-style="normal" >Present</text>
<rect x="423.60" y="253.50" width="13.60" height="7.70" fill="#fff"/>
<text transform="translate(440.20,259.75) scale(0.9375,1)" x="0" y="0" font-size="6.4" text-anchor="start" fill="#1e1e1e" font-weight="normal" font-style="normal" >None</text>
<line x1="423.60" y1="253.50" x2="437.20" y2="253.50" stroke="#2a2a2a" stroke-width="0.6"/>
<rect x="423.60" y="245.80" width="13.60" height="15.40" fill="none" stroke="#383838" stroke-width="0.85"/>
<text x="7.70" y="289.50" font-size="12.3" text-anchor="start" fill="#111" font-weight="bold" font-style="normal" stroke="#111" stroke-width="0.45">B</text>
<text x="146.10" y="301.20" font-size="8.7" text-anchor="middle" fill="#1a1a1a" font-weight="normal" font-style="normal" stroke="#1a1a1a" stroke-width="0.15">All PTLD cases involving CNS</text>
<line x1="32.40" y1="306.60" x2="260.00" y2="306.60" stroke="#111" stroke-width="1.3"/>
<text x="55.10" y="320.10" font-size="6.4" text-anchor="start" fill="#1e1e1e" font-weight="normal" font-style="normal" >Survival Stratified By</text>
<text x="55.10" y="327.80" font-size="6.4" text-anchor="start" fill="#1e1e1e" font-weight="normal" font-style="normal" >Ki-67 Labeling Index</text>
<line x1="51.00" y1="334.20" x2="51.00" y2="412.40" stroke="#111" stroke-width="1.4"/>
<line x1="50.40" y1="411.80" x2="138.20" y2="411.80" stroke="#111" stroke-width="1.4"/>
<line x1="47.80" y1="411.80" x2="51.00" y2="411.80" stroke="#222" stroke-width="0.8"/>
<line x1="49.50" y1="408.07" x2="51.00" y2="408.07" stroke="#222" stroke-width="0.8"/>
<line x1="49.50" y1="404.34" x2="51.00" y2="404.34" stroke="#222" stroke-width="0.8"/>
<line x1="49.50" y1="400.60" x2="51.00" y2="400.60" stroke="#222" stroke-width="0.8"/>
<line x1="49.50" y1="396.87" x2="51.00" y2="396.87" stroke="#222" stroke-width="0.8"/>
<line x1="49.50" y1="393.14" x2="51.00" y2="393.14" stroke="#222" stroke-width="0.8"/>
<line x1="49.50" y1="389.41" x2="51.00" y2="389.41" stroke="#222" stroke-width="0.8"/>
<line x1="49.50" y1="385.67" x2="51.00" y2="385.67" stroke="#222" stroke-width="0.8"/>
<line x1="49.50" y1="381.94" x2="51.00" y2="381.94" stroke="#222" stroke-width="0.8"/>
<line x1="49.50" y1="378.21" x2="51.00" y2="378.21" stroke="#222" stroke-width="0.8"/>
<line x1="47.80" y1="374.48" x2="51.00" y2="374.48" stroke="#222" stroke-width="0.8"/>
<line x1="49.50" y1="370.74" x2="51.00" y2="370.74" stroke="#222" stroke-width="0.8"/>
<line x1="49.50" y1="367.01" x2="51.00" y2="367.01" stroke="#222" stroke-width="0.8"/>
<line x1="49.50" y1="363.28" x2="51.00" y2="363.28" stroke="#222" stroke-width="0.8"/>
<line x1="49.50" y1="359.55" x2="51.00" y2="359.55" stroke="#222" stroke-width="0.8"/>
<line x1="49.50" y1="355.81" x2="51.00" y2="355.81" stroke="#222" stroke-width="0.8"/>
<line x1="49.50" y1="352.08" x2="51.00" y2="352.08" stroke="#222" stroke-width="0.8"/>
<line x1="49.50" y1="348.35" x2="51.00" y2="348.35" stroke="#222" stroke-width="0.8"/>
<line x1="49.50" y1="344.62" x2="51.00" y2="344.62" stroke="#222" stroke-width="0.8"/>
<line x1="49.50" y1="340.88" x2="51.00" y2="340.88" stroke="#222" stroke-width="0.8"/>
<line x1="47.80" y1="337.15" x2="51.00" y2="337.15" stroke="#222" stroke-width="0.8"/>
<line x1="51.00" y1="411.80" x2="51.00" y2="415.00" stroke="#222" stroke-width="0.8"/>
<line x1="53.77" y1="411.80" x2="53.77" y2="413.30" stroke="#222" stroke-width="0.8"/>
<line x1="56.53" y1="411.80" x2="56.53" y2="413.30" stroke="#222" stroke-width="0.8"/>
<line x1="59.30" y1="411.80" x2="59.30" y2="413.30" stroke="#222" stroke-width="0.8"/>
<line x1="62.07" y1="411.80" x2="62.07" y2="413.30" stroke="#222" stroke-width="0.8"/>
<line x1="64.83" y1="411.80" x2="64.83" y2="413.30" stroke="#222" stroke-width="0.8"/>
<line x1="67.60" y1="411.80" x2="67.60" y2="413.30" stroke="#222" stroke-width="0.8"/>
<line x1="70.37" y1="411.80" x2="70.37" y2="413.30" stroke="#222" stroke-width="0.8"/>
<line x1="73.13" y1="411.80" x2="73.13" y2="413.30" stroke="#222" stroke-width="0.8"/>
<line x1="75.90" y1="411.80" x2="75.90" y2="413.30" stroke="#222" stroke-width="0.8"/>
<line x1="78.66" y1="411.80" x2="78.66" y2="415.00" stroke="#222" stroke-width="0.8"/>
<line x1="81.43" y1="411.80" x2="81.43" y2="413.30" stroke="#222" stroke-width="0.8"/>
<line x1="84.20" y1="411.80" x2="84.20" y2="413.30" stroke="#222" stroke-width="0.8"/>
<line x1="86.96" y1="411.80" x2="86.96" y2="413.30" stroke="#222" stroke-width="0.8"/>
<line x1="89.73" y1="411.80" x2="89.73" y2="413.30" stroke="#222" stroke-width="0.8"/>
<line x1="92.50" y1="411.80" x2="92.50" y2="413.30" stroke="#222" stroke-width="0.8"/>
<line x1="95.26" y1="411.80" x2="95.26" y2="413.30" stroke="#222" stroke-width="0.8"/>
<line x1="98.03" y1="411.80" x2="98.03" y2="413.30" stroke="#222" stroke-width="0.8"/>
<line x1="100.80" y1="411.80" x2="100.80" y2="413.30" stroke="#222" stroke-width="0.8"/>
<line x1="103.56" y1="411.80" x2="103.56" y2="413.30" stroke="#222" stroke-width="0.8"/>
<line x1="106.33" y1="411.80" x2="106.33" y2="415.00" stroke="#222" stroke-width="0.8"/>
<line x1="109.10" y1="411.80" x2="109.10" y2="413.30" stroke="#222" stroke-width="0.8"/>
<line x1="111.86" y1="411.80" x2="111.86" y2="413.30" stroke="#222" stroke-width="0.8"/>
<line x1="114.63" y1="411.80" x2="114.63" y2="413.30" stroke="#222" stroke-width="0.8"/>
<line x1="117.40" y1="411.80" x2="117.40" y2="413.30" stroke="#222" stroke-width="0.8"/>
<line x1="120.16" y1="411.80" x2="120.16" y2="413.30" stroke="#222" stroke-width="0.8"/>
<line x1="122.93" y1="411.80" x2="122.93" y2="413.30" stroke="#222" stroke-width="0.8"/>
<line x1="125.70" y1="411.80" x2="125.70" y2="413.30" stroke="#222" stroke-width="0.8"/>
<line x1="128.46" y1="411.80" x2="128.46" y2="413.30" stroke="#222" stroke-width="0.8"/>
<line x1="131.23" y1="411.80" x2="131.23" y2="413.30" stroke="#222" stroke-width="0.8"/>
<line x1="134.00" y1="411.80" x2="134.00" y2="415.00" stroke="#222" stroke-width="0.8"/>
<text x="44.00" y="414.00" font-size="6.4" text-anchor="end" fill="#333" font-weight="normal" font-style="normal" >0</text>
<text x="44.00" y="376.68" font-size="6.4" text-anchor="end" fill="#333" font-weight="normal" font-style="normal" >50</text>
<text x="44.00" y="339.35" font-size="6.4" text-anchor="end" fill="#333" font-weight="normal" font-style="normal" >100</text>
<text transform="translate(51.00,423.40) scale(0.9844,1)" x="0" y="0" font-size="6.4" text-anchor="middle" fill="#333" font-weight="normal" font-style="normal" >0</text>
<text transform="translate(78.66,423.40) scale(0.9844,1)" x="0" y="0" font-size="6.4" text-anchor="middle" fill="#333" font-weight="normal" font-style="normal" >50</text>
<text transform="translate(106.33,423.40) scale(0.9844,1)" x="0" y="0" font-size="6.4" text-anchor="middle" fill="#333" font-weight="normal" font-style="normal" >100</text>
<text transform="translate(134.00,423.40) scale(0.9844,1)" x="0" y="0" font-size="6.4" text-anchor="middle" fill="#333" font-weight="normal" font-style="normal" >150</text>
<g transform="translate(94.3,436.8) scale(0.66,1)"><text x="0" y="0" font-size="9.0" font-weight="normal" text-anchor="middle" fill="#111" stroke="#111" stroke-width="0.25">Months</text></g>
<g transform="translate(27.2,373.6) rotate(-90) scale(0.70,1)"><text x="0" y="0" font-size="8.6" font-weight="normal" text-anchor="middle" fill="#111" stroke="#111" stroke-width="0.25">Probability of survival</text></g>
<polyline points="51.00,342.45 83.64,342.45 118.50,365.59 132.34,365.59" fill="none" stroke="#c8102e" stroke-width="1.1"/>
<circle cx="52.11" cy="342.45" r="1.7" fill="#b3102e"/>
<circle cx="53.49" cy="342.45" r="1.7" fill="#b3102e"/>
<circle cx="54.87" cy="342.45" r="1.7" fill="#b3102e"/>
<circle cx="57.09" cy="342.45" r="1.7" fill="#b3102e"/>
<circle cx="62.62" cy="342.45" r="1.7" fill="#b3102e"/>
<circle cx="69.81" cy="342.45" r="1.7" fill="#b3102e"/>
<circle cx="70.92" cy="342.45" r="1.7" fill="#b3102e"/>
<circle cx="83.64" cy="342.45" r="1.7" fill="#b3102e"/>
<circle cx="118.50" cy="365.59" r="1.7" fill="#b3102e"/>
<circle cx="132.34" cy="365.59" r="1.7" fill="#b3102e"/>
<polyline points="51.00,337.15 51.28,347.82 51.83,358.50 55.15,369.17 55.15,379.78 61.24,390.45 66.22,390.45 102.46,411.80" fill="none" stroke="#234a7c" stroke-width="1.1"/>
<circle cx="51.28" cy="347.82" r="1.7" fill="#1c3a60"/>
<circle cx="51.83" cy="358.50" r="1.7" fill="#1c3a60"/>
<circle cx="55.15" cy="369.17" r="1.7" fill="#1c3a60"/>
<circle cx="55.15" cy="379.78" r="1.7" fill="#1c3a60"/>
<circle cx="61.24" cy="390.45" r="1.7" fill="#1c3a60"/>
<circle cx="66.22" cy="390.45" r="1.7" fill="#1c3a60"/>
<circle cx="102.46" cy="411.80" r="1.7" fill="#1c3a60"/>
<polygon points="109.00,344.4 112.30,342.70 115.60,344.4 112.30,346.10" fill="#133a48"/>
<text transform="translate(118.30,346.60) scale(0.9844,1)" x="0" y="0" font-size="6.4" text-anchor="start" fill="#7088ad" font-weight="normal" font-style="normal" >≥80%</text>
<polygon points="109.00,352.1 112.30,350.40 115.60,352.1 112.30,353.80" fill="#8c1432"/>
<text transform="translate(118.30,354.30) scale(0.9844,1)" x="0" y="0" font-size="6.4" text-anchor="start" fill="#d86a84" font-weight="normal" font-style="normal" >&lt;80%</text>
<rect x="150.60" y="333.40" width="106.10" height="78.20" fill="#fff"/>
<rect x="150.60" y="333.40" width="34.20" height="10.00" fill="#a3a3a3"/>
<rect x="185.40" y="333.40" width="35.90" height="10.00" fill="#c4c8d2"/>
<rect x="221.90" y="333.40" width="34.80" height="10.00" fill="#d8c8ce"/>
<rect x="150.60" y="352.60" width="106.10" height="24.40" fill="#ececec"/>
<rect x="150.60" y="385.80" width="106.10" height="8.80" fill="#ececec"/>
<line x1="150.60" y1="343.40" x2="256.70" y2="343.40" stroke="#444" stroke-width="0.6"/>
<rect x="150.60" y="333.40" width="106.10" height="78.20" fill="none" stroke="#333" stroke-width="1.1"/>
<text transform="translate(165.90,341.20) scale(0.9844,1)" x="0" y="0" font-size="6.4" text-anchor="middle" fill="#222" font-weight="normal" font-style="normal" >Groups</text>
<text transform="translate(203.05,341.20) scale(0.9688,1)" x="0" y="0" font-size="6.4" text-anchor="middle" fill="#5a78aa" font-weight="normal" font-style="normal" >Ki-67 ≥80%</text>
<text transform="translate(239.00,341.20) scale(0.9688,1)" x="0" y="0" font-size="6.4" text-anchor="middle" fill="#d0405e" font-weight="normal" font-style="normal" >Ki-67 &lt;80%</text>
<text transform="translate(167.70,350.80) scale(0.9688,1)" x="0" y="0" font-size="6.4" text-anchor="middle" fill="#1e1e1e" font-weight="normal" font-style="normal" >Number</text>
<text transform="translate(203.05,350.80) scale(0.9688,1)" x="0" y="0" font-size="6.4" text-anchor="middle" fill="#1e1e1e" font-weight="normal" font-style="normal" >7</text>
<text transform="translate(239.00,350.80) scale(0.9688,1)" x="0" y="0" font-size="6.4" text-anchor="middle" fill="#1e1e1e" font-weight="normal" font-style="normal" >14</text>
<text transform="translate(167.70,359.80) scale(0.9688,1)" x="0" y="0" font-size="6.4" text-anchor="middle" fill="#1e1e1e" font-weight="normal" font-style="normal" >Median</text>
<text transform="translate(167.70,367.40) scale(0.9688,1)" x="0" y="0" font-size="6.4" text-anchor="middle" fill="#1e1e1e" font-weight="normal" font-style="normal" >Survival</text>
<text transform="translate(167.70,375.10) scale(0.9688,1)" x="0" y="0" font-size="6.4" text-anchor="middle" fill="#1e1e1e" font-weight="normal" font-style="normal" >(months)</text>
<text transform="translate(203.05,367.60) scale(0.9688,1)" x="0" y="0" font-size="6.4" text-anchor="middle" fill="#1e1e1e" font-weight="normal" font-style="normal" >7.9</text>
<text transform="translate(239.00,367.60) scale(0.9688,1)" x="0" y="0" font-size="6.4" text-anchor="middle" fill="#1e1e1e" font-weight="normal" font-style="normal" >Undefined</text>
<text transform="translate(152.10,383.60) scale(0.9688,1)" x="0" y="0" font-size="6.4" text-anchor="start" fill="#1e1e1e" font-weight="normal" font-style="normal" >5y-OS (%)</text>
<text transform="translate(203.05,383.60) scale(0.9688,1)" x="0" y="0" font-size="6.4" text-anchor="middle" fill="#1e1e1e" font-weight="normal" font-style="normal" >28.6</text>
<text transform="translate(239.00,383.60) scale(0.9688,1)" x="0" y="0" font-size="6.4" text-anchor="middle" fill="#1e1e1e" font-weight="normal" font-style="normal" >92.9</text>
<text transform="translate(152.10,393.00) scale(0.9688,1)" x="0" y="0" font-size="6.4" text-anchor="start" fill="#1e1e1e" font-weight="normal" font-style="normal" >10y-OS(%)</text>
<text transform="translate(203.05,393.00) scale(0.9688,1)" x="0" y="0" font-size="6.4" text-anchor="middle" fill="#1e1e1e" font-weight="normal" font-style="normal" >0</text>
<text transform="translate(239.00,393.00) scale(0.9688,1)" x="0" y="0" font-size="6.4" text-anchor="middle" fill="#1e1e1e" font-weight="normal" font-style="normal" >92.9</text>
<text transform="translate(167.70,401.70) scale(0.9688,1)" x="0" y="0" font-size="6.4" text-anchor="middle" fill="#1e1e1e" font-weight="normal" font-style="normal" >Log-rank</text>
<text transform="translate(167.70,409.50) scale(0.9688,1)" x="0" y="0" font-size="6.4" text-anchor="middle" fill="#1e1e1e" font-weight="normal" font-style="normal" >test <tspan font-style="italic">P</tspan> value</text>
<text transform="translate(220.30,405.70) scale(0.9688,1)" x="0" y="0" font-size="6.4" text-anchor="middle" fill="#1e1e1e" font-weight="normal" font-style="normal" >.0015</text>
<text x="399.20" y="301.20" font-size="8.8" text-anchor="middle" fill="#1a1a1a" font-weight="normal" font-style="normal" stroke="#1a1a1a" stroke-width="0.15">Only EBV-positive PTLD restricted to CNS</text>
<line x1="285.80" y1="306.60" x2="513.20" y2="306.60" stroke="#111" stroke-width="1.3"/>
<text x="303.90" y="320.10" font-size="6.4" text-anchor="start" fill="#1e1e1e" font-weight="normal" font-style="normal" >Survival Stratified By</text>
<text x="303.90" y="327.80" font-size="6.4" text-anchor="start" fill="#1e1e1e" font-weight="normal" font-style="normal" >Ki-67 Labeling Index</text>
<line x1="301.00" y1="334.20" x2="301.00" y2="412.40" stroke="#111" stroke-width="1.4"/>
<line x1="300.40" y1="411.80" x2="388.20" y2="411.80" stroke="#111" stroke-width="1.4"/>
<line x1="297.80" y1="411.80" x2="301.00" y2="411.80" stroke="#222" stroke-width="0.8"/>
<line x1="299.50" y1="408.07" x2="301.00" y2="408.07" stroke="#222" stroke-width="0.8"/>
<line x1="299.50" y1="404.34" x2="301.00" y2="404.34" stroke="#222" stroke-width="0.8"/>
<line x1="299.50" y1="400.60" x2="301.00" y2="400.60" stroke="#222" stroke-width="0.8"/>
<line x1="299.50" y1="396.87" x2="301.00" y2="396.87" stroke="#222" stroke-width="0.8"/>
<line x1="299.50" y1="393.14" x2="301.00" y2="393.14" stroke="#222" stroke-width="0.8"/>
<line x1="299.50" y1="389.41" x2="301.00" y2="389.41" stroke="#222" stroke-width="0.8"/>
<line x1="299.50" y1="385.67" x2="301.00" y2="385.67" stroke="#222" stroke-width="0.8"/>
<line x1="299.50" y1="381.94" x2="301.00" y2="381.94" stroke="#222" stroke-width="0.8"/>
<line x1="299.50" y1="378.21" x2="301.00" y2="378.21" stroke="#222" stroke-width="0.8"/>
<line x1="297.80" y1="374.48" x2="301.00" y2="374.48" stroke="#222" stroke-width="0.8"/>
<line x1="299.50" y1="370.74" x2="301.00" y2="370.74" stroke="#222" stroke-width="0.8"/>
<line x1="299.50" y1="367.01" x2="301.00" y2="367.01" stroke="#222" stroke-width="0.8"/>
<line x1="299.50" y1="363.28" x2="301.00" y2="363.28" stroke="#222" stroke-width="0.8"/>
<line x1="299.50" y1="359.55" x2="301.00" y2="359.55" stroke="#222" stroke-width="0.8"/>
<line x1="299.50" y1="355.81" x2="301.00" y2="355.81" stroke="#222" stroke-width="0.8"/>
<line x1="299.50" y1="352.08" x2="301.00" y2="352.08" stroke="#222" stroke-width="0.8"/>
<line x1="299.50" y1="348.35" x2="301.00" y2="348.35" stroke="#222" stroke-width="0.8"/>
<line x1="299.50" y1="344.62" x2="301.00" y2="344.62" stroke="#222" stroke-width="0.8"/>
<line x1="299.50" y1="340.88" x2="301.00" y2="340.88" stroke="#222" stroke-width="0.8"/>
<line x1="297.80" y1="337.15" x2="301.00" y2="337.15" stroke="#222" stroke-width="0.8"/>
<line x1="301.00" y1="411.80" x2="301.00" y2="415.00" stroke="#222" stroke-width="0.8"/>
<line x1="303.77" y1="411.80" x2="303.77" y2="413.30" stroke="#222" stroke-width="0.8"/>
<line x1="306.53" y1="411.80" x2="306.53" y2="413.30" stroke="#222" stroke-width="0.8"/>
<line x1="309.30" y1="411.80" x2="309.30" y2="413.30" stroke="#222" stroke-width="0.8"/>
<line x1="312.07" y1="411.80" x2="312.07" y2="413.30" stroke="#222" stroke-width="0.8"/>
<line x1="314.83" y1="411.80" x2="314.83" y2="413.30" stroke="#222" stroke-width="0.8"/>
<line x1="317.60" y1="411.80" x2="317.60" y2="413.30" stroke="#222" stroke-width="0.8"/>
<line x1="320.37" y1="411.80" x2="320.37" y2="413.30" stroke="#222" stroke-width="0.8"/>
<line x1="323.13" y1="411.80" x2="323.13" y2="413.30" stroke="#222" stroke-width="0.8"/>
<line x1="325.90" y1="411.80" x2="325.90" y2="413.30" stroke="#222" stroke-width="0.8"/>
<line x1="328.67" y1="411.80" x2="328.67" y2="415.00" stroke="#222" stroke-width="0.8"/>
<line x1="331.43" y1="411.80" x2="331.43" y2="413.30" stroke="#222" stroke-width="0.8"/>
<line x1="334.20" y1="411.80" x2="334.20" y2="413.30" stroke="#222" stroke-width="0.8"/>
<line x1="336.96" y1="411.80" x2="336.96" y2="413.30" stroke="#222" stroke-width="0.8"/>
<line x1="339.73" y1="411.80" x2="339.73" y2="413.30" stroke="#222" stroke-width="0.8"/>
<line x1="342.50" y1="411.80" x2="342.50" y2="413.30" stroke="#222" stroke-width="0.8"/>
<line x1="345.26" y1="411.80" x2="345.26" y2="413.30" stroke="#222" stroke-width="0.8"/>
<line x1="348.03" y1="411.80" x2="348.03" y2="413.30" stroke="#222" stroke-width="0.8"/>
<line x1="350.80" y1="411.80" x2="350.80" y2="413.30" stroke="#222" stroke-width="0.8"/>
<line x1="353.56" y1="411.80" x2="353.56" y2="413.30" stroke="#222" stroke-width="0.8"/>
<line x1="356.33" y1="411.80" x2="356.33" y2="415.00" stroke="#222" stroke-width="0.8"/>
<line x1="359.10" y1="411.80" x2="359.10" y2="413.30" stroke="#222" stroke-width="0.8"/>
<line x1="361.86" y1="411.80" x2="361.86" y2="413.30" stroke="#222" stroke-width="0.8"/>
<line x1="364.63" y1="411.80" x2="364.63" y2="413.30" stroke="#222" stroke-width="0.8"/>
<line x1="367.40" y1="411.80" x2="367.40" y2="413.30" stroke="#222" stroke-width="0.8"/>
<line x1="370.16" y1="411.80" x2="370.16" y2="413.30" stroke="#222" stroke-width="0.8"/>
<line x1="372.93" y1="411.80" x2="372.93" y2="413.30" stroke="#222" stroke-width="0.8"/>
<line x1="375.70" y1="411.80" x2="375.70" y2="413.30" stroke="#222" stroke-width="0.8"/>
<line x1="378.46" y1="411.80" x2="378.46" y2="413.30" stroke="#222" stroke-width="0.8"/>
<line x1="381.23" y1="411.80" x2="381.23" y2="413.30" stroke="#222" stroke-width="0.8"/>
<line x1="384.00" y1="411.80" x2="384.00" y2="415.00" stroke="#222" stroke-width="0.8"/>
<text x="294.00" y="414.00" font-size="6.4" text-anchor="end" fill="#333" font-weight="normal" font-style="normal" >0</text>
<text x="294.00" y="376.68" font-size="6.4" text-anchor="end" fill="#333" font-weight="normal" font-style="normal" >50</text>
<text x="294.00" y="339.35" font-size="6.4" text-anchor="end" fill="#333" font-weight="normal" font-style="normal" >100</text>
<text transform="translate(301.00,423.40) scale(0.9844,1)" x="0" y="0" font-size="6.4" text-anchor="middle" fill="#333" font-weight="normal" font-style="normal" >0</text>
<text transform="translate(328.67,423.40) scale(0.9844,1)" x="0" y="0" font-size="6.4" text-anchor="middle" fill="#333" font-weight="normal" font-style="normal" >50</text>
<text transform="translate(356.33,423.40) scale(0.9844,1)" x="0" y="0" font-size="6.4" text-anchor="middle" fill="#333" font-weight="normal" font-style="normal" >100</text>
<text transform="translate(384.00,423.40) scale(0.9844,1)" x="0" y="0" font-size="6.4" text-anchor="middle" fill="#333" font-weight="normal" font-style="normal" >150</text>
<g transform="translate(344.3,436.8) scale(0.66,1)"><text x="0" y="0" font-size="9.0" font-weight="normal" text-anchor="middle" fill="#111" stroke="#111" stroke-width="0.25">Months</text></g>
<g transform="translate(277.2,373.6) rotate(-90) scale(0.70,1)"><text x="0" y="0" font-size="8.6" font-weight="normal" text-anchor="middle" fill="#111" stroke="#111" stroke-width="0.25">Probability of survival</text></g>
<polyline points="301.00,342.90 333.64,342.90 368.50,377.31 382.34,377.31" fill="none" stroke="#c8102e" stroke-width="1.1"/>
<circle cx="301.28" cy="342.90" r="1.7" fill="#b3102e"/>
<circle cx="303.77" cy="342.90" r="1.7" fill="#b3102e"/>
<circle cx="306.81" cy="342.90" r="1.7" fill="#b3102e"/>
<circle cx="312.90" cy="342.90" r="1.7" fill="#b3102e"/>
<circle cx="319.81" cy="342.90" r="1.7" fill="#b3102e"/>
<circle cx="321.47" cy="342.90" r="1.7" fill="#b3102e"/>
<circle cx="333.64" cy="342.90" r="1.7" fill="#b3102e"/>
<circle cx="368.50" cy="377.31" r="1.7" fill="#b3102e"/>
<polyline points="301.00,337.15 305.15,355.81 305.15,374.48 311.51,393.14 316.49,393.14" fill="none" stroke="#234a7c" stroke-width="1.1"/>
<circle cx="305.15" cy="355.81" r="1.7" fill="#1c3a60"/>
<circle cx="305.15" cy="374.48" r="1.7" fill="#1c3a60"/>
<circle cx="311.51" cy="393.14" r="1.7" fill="#1c3a60"/>
<circle cx="316.49" cy="393.14" r="1.7" fill="#1c3a60"/>
<polygon points="359.00,344.2 362.30,342.50 365.60,344.2 362.30,345.90" fill="#133a48"/>
<text transform="translate(368.30,346.40) scale(0.9844,1)" x="0" y="0" font-size="6.4" text-anchor="start" fill="#7088ad" font-weight="normal" font-style="normal" >≥80%</text>
<polygon points="359.00,351.4 362.30,349.70 365.60,351.4 362.30,353.10" fill="#8c1432"/>
<text transform="translate(368.30,353.60) scale(0.9844,1)" x="0" y="0" font-size="6.4" text-anchor="start" fill="#d86a84" font-weight="normal" font-style="normal" >&lt;80%</text>
<rect x="400.60" y="333.40" width="107.10" height="78.20" fill="#fff"/>
<rect x="400.60" y="333.40" width="34.20" height="10.00" fill="#a3a3a3"/>
<rect x="435.40" y="333.40" width="35.90" height="10.00" fill="#c4c8d2"/>
<rect x="471.90" y="333.40" width="35.80" height="10.00" fill="#d8c8ce"/>
<rect x="400.60" y="352.60" width="107.10" height="24.40" fill="#ececec"/>
<rect x="400.60" y="385.80" width="107.10" height="8.80" fill="#ececec"/>
<line x1="400.60" y1="343.40" x2="507.70" y2="343.40" stroke="#444" stroke-width="0.6"/>
<rect x="400.60" y="333.40" width="107.10" height="78.20" fill="none" stroke="#333" stroke-width="1.1"/>
<text transform="translate(415.90,341.20) scale(0.9844,1)" x="0" y="0" font-size="6.4" text-anchor="middle" fill="#222" font-weight="normal" font-style="normal" >Groups</text>
<text transform="translate(453.05,341.20) scale(0.9688,1)" x="0" y="0" font-size="6.4" text-anchor="middle" fill="#5a78aa" font-weight="normal" font-style="normal" >Ki-67 ≥80%</text>
<text transform="translate(489.50,341.20) scale(0.9688,1)" x="0" y="0" font-size="6.4" text-anchor="middle" fill="#d0405e" font-weight="normal" font-style="normal" >Ki-67 &lt;80%</text>
<text transform="translate(417.70,350.80) scale(0.9688,1)" x="0" y="0" font-size="6.4" text-anchor="middle" fill="#1e1e1e" font-weight="normal" font-style="normal" >Number</text>
<text transform="translate(453.05,350.80) scale(0.9688,1)" x="0" y="0" font-size="6.4" text-anchor="middle" fill="#1e1e1e" font-weight="normal" font-style="normal" >4</text>
<text transform="translate(489.50,350.80) scale(0.9688,1)" x="0" y="0" font-size="6.4" text-anchor="middle" fill="#1e1e1e" font-weight="normal" font-style="normal" >13</text>
<text transform="translate(417.70,359.80) scale(0.9688,1)" x="0" y="0" font-size="6.4" text-anchor="middle" fill="#1e1e1e" font-weight="normal" font-style="normal" >Median</text>
<text transform="translate(417.70,367.40) scale(0.9688,1)" x="0" y="0" font-size="6.4" text-anchor="middle" fill="#1e1e1e" font-weight="normal" font-style="normal" >Survival</text>
<text transform="translate(417.70,375.10) scale(0.9688,1)" x="0" y="0" font-size="6.4" text-anchor="middle" fill="#1e1e1e" font-weight="normal" font-style="normal" >(months)</text>
<text transform="translate(453.05,367.60) scale(0.9688,1)" x="0" y="0" font-size="6.4" text-anchor="middle" fill="#1e1e1e" font-weight="normal" font-style="normal" >13.55</text>
<text transform="translate(489.50,367.60) scale(0.9688,1)" x="0" y="0" font-size="6.4" text-anchor="middle" fill="#1e1e1e" font-weight="normal" font-style="normal" >122</text>
<text transform="translate(402.10,383.60) scale(0.9688,1)" x="0" y="0" font-size="6.4" text-anchor="start" fill="#1e1e1e" font-weight="normal" font-style="normal" >5y-OS (%)</text>
<text transform="translate(453.05,383.60) scale(0.9688,1)" x="0" y="0" font-size="6.4" text-anchor="middle" fill="#1e1e1e" font-weight="normal" font-style="normal" >0</text>
<text transform="translate(489.50,383.60) scale(0.9688,1)" x="0" y="0" font-size="6.4" text-anchor="middle" fill="#1e1e1e" font-weight="normal" font-style="normal" >92.3</text>
<text transform="translate(402.10,393.00) scale(0.9688,1)" x="0" y="0" font-size="6.4" text-anchor="start" fill="#1e1e1e" font-weight="normal" font-style="normal" >10y-OS(%)</text>
<text transform="translate(453.05,393.00) scale(0.9688,1)" x="0" y="0" font-size="6.4" text-anchor="middle" fill="#1e1e1e" font-weight="normal" font-style="normal" >0</text>
<text transform="translate(489.50,393.00) scale(0.9688,1)" x="0" y="0" font-size="6.4" text-anchor="middle" fill="#1e1e1e" font-weight="normal" font-style="normal" >92.3</text>
<text transform="translate(417.70,401.70) scale(0.9688,1)" x="0" y="0" font-size="6.4" text-anchor="middle" fill="#1e1e1e" font-weight="normal" font-style="normal" >Log-rank</text>
<text transform="translate(417.70,409.50) scale(0.9688,1)" x="0" y="0" font-size="6.4" text-anchor="middle" fill="#1e1e1e" font-weight="normal" font-style="normal" >test <tspan font-style="italic">P</tspan> value</text>
<text transform="translate(470.30,405.70) scale(0.9688,1)" x="0" y="0" font-size="6.4" text-anchor="middle" fill="#1e1e1e" font-weight="normal" font-style="normal" >.022</text>
<rect x="3.80" y="3.80" width="509.00" height="437.40" fill="none" stroke="#f1f1f1" stroke-width="0.8"/>
<rect x="0.50" y="0.50" width="519.00" height="445.00" fill="none" stroke="#505050" stroke-width="1.0"/>
<line x1="0.00" y1="444.90" x2="520.00" y2="444.90" stroke="#707070" stroke-width="1.0"/>
</svg>
</div></body></html>
